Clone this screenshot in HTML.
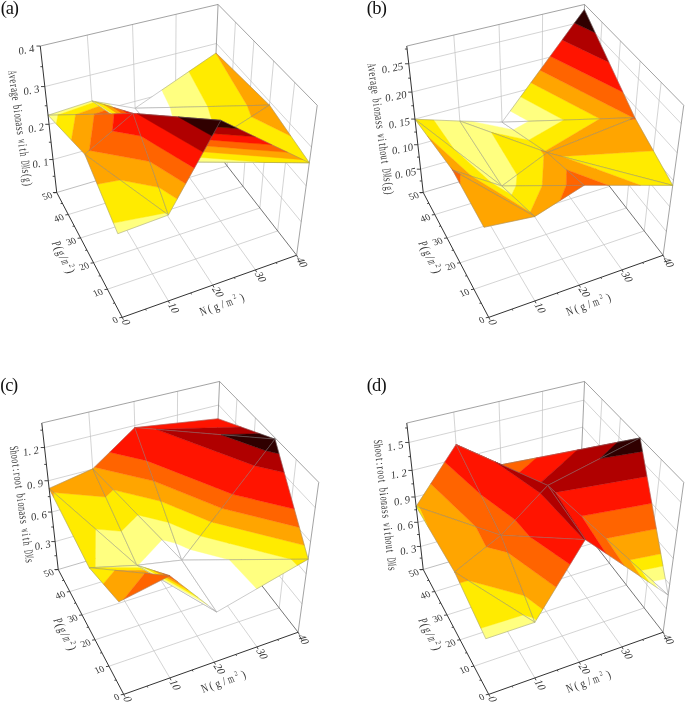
<!DOCTYPE html><html><head><meta charset="utf-8"><style>html,body{margin:0;padding:0;background:#fff}svg{display:block;will-change:transform}</style></head><body>
<svg width="685" height="704" viewBox="0 0 685 704">
<rect width="685" height="704" fill="#fff"/>
<line x1="168.37" y1="300.95" x2="97.52" y2="180.45" stroke="#c2c2c2" stroke-width="0.7"/>
<line x1="97.52" y1="180.45" x2="87.28" y2="35.05" stroke="#c2c2c2" stroke-width="0.7"/>
<line x1="212.74" y1="285.13" x2="136.96" y2="168.79" stroke="#c2c2c2" stroke-width="0.7"/>
<line x1="136.96" y1="168.79" x2="132.52" y2="24.47" stroke="#c2c2c2" stroke-width="0.7"/>
<line x1="255.46" y1="269.91" x2="175.14" y2="157.51" stroke="#c2c2c2" stroke-width="0.7"/>
<line x1="175.14" y1="157.51" x2="176.08" y2="14.27" stroke="#c2c2c2" stroke-width="0.7"/>
<line x1="107.45" y1="289.22" x2="277.69" y2="230.93" stroke="#c2c2c2" stroke-width="0.7"/>
<line x1="277.69" y1="230.93" x2="294.68" y2="82.37" stroke="#c2c2c2" stroke-width="0.7"/>
<line x1="93.59" y1="262.79" x2="259.87" y2="208.01" stroke="#c2c2c2" stroke-width="0.7"/>
<line x1="259.87" y1="208.01" x2="273.62" y2="60.95" stroke="#c2c2c2" stroke-width="0.7"/>
<line x1="80.56" y1="237.95" x2="243.05" y2="186.39" stroke="#c2c2c2" stroke-width="0.7"/>
<line x1="243.05" y1="186.39" x2="253.91" y2="40.90" stroke="#c2c2c2" stroke-width="0.7"/>
<line x1="68.29" y1="214.57" x2="227.15" y2="165.94" stroke="#c2c2c2" stroke-width="0.7"/>
<line x1="227.15" y1="165.94" x2="235.43" y2="22.11" stroke="#c2c2c2" stroke-width="0.7"/>
<line x1="53.02" y1="159.54" x2="213.45" y2="114.35" stroke="#c2c2c2" stroke-width="0.7"/>
<line x1="213.45" y1="114.35" x2="301.21" y2="221.80" stroke="#c2c2c2" stroke-width="0.7"/>
<line x1="49.07" y1="124.31" x2="214.89" y2="80.06" stroke="#c2c2c2" stroke-width="0.7"/>
<line x1="214.89" y1="80.06" x2="306.15" y2="185.86" stroke="#c2c2c2" stroke-width="0.7"/>
<line x1="44.83" y1="86.57" x2="216.43" y2="43.50" stroke="#c2c2c2" stroke-width="0.7"/>
<line x1="216.43" y1="43.50" x2="311.48" y2="147.14" stroke="#c2c2c2" stroke-width="0.7"/>
<line x1="56.72" y1="192.51" x2="212.09" y2="146.58" stroke="#a8a8a8" stroke-width="0.75"/>
<line x1="296.60" y1="255.24" x2="212.09" y2="146.58" stroke="#5c5c5c" stroke-width="0.85"/>
<line x1="212.09" y1="146.58" x2="218.07" y2="4.45" stroke="#8c8c8c" stroke-width="0.8"/>
<line x1="296.60" y1="255.24" x2="317.24" y2="105.31" stroke="#8c8c8c" stroke-width="0.8"/>
<line x1="40.28" y1="46.05" x2="218.07" y2="4.45" stroke="#8c8c8c" stroke-width="0.8"/>
<line x1="218.07" y1="4.45" x2="317.24" y2="105.31" stroke="#8c8c8c" stroke-width="0.8"/>
<polygon points="161.77,90.03 135.10,108.22 170.17,107.42" fill="#ffffff" stroke="#ffffff" stroke-width="0.4"/>
<polygon points="188.81,71.59 161.77,90.03 170.17,107.42 207.67,106.56" fill="#ffff80" stroke="#ffff80" stroke-width="0.4"/>
<polygon points="215.77,53.19 188.81,71.59 207.67,106.56 247.23,105.66" fill="#ffeb00" stroke="#ffeb00" stroke-width="0.4"/>
<polygon points="269.49,105.15 216.03,53.02 215.77,53.19 247.23,105.66" fill="#ffa500" stroke="#ffa500" stroke-width="0.4"/>
<polygon points="269.49,105.15 216.03,53.02 135.10,108.22" fill="none" stroke="#858585" stroke-width="0.5" stroke-opacity="0.85" stroke-linejoin="round"/>
<polygon points="180.58,161.89 135.10,108.22 109.38,103.91 170.22,154.77" fill="#ffffff" stroke="#ffffff" stroke-width="0.4"/>
<polygon points="109.38,103.91 91.92,100.98 170.22,154.77" fill="#ffff80" stroke="#ffff80" stroke-width="0.4"/>
<polygon points="180.58,161.89 135.10,108.22 91.92,100.98" fill="none" stroke="#858585" stroke-width="0.5" stroke-opacity="0.85" stroke-linejoin="round"/>
<polygon points="180.58,161.89 183.31,160.14 170.17,107.42 135.10,108.22" fill="#ffffff" stroke="#ffffff" stroke-width="0.4"/>
<polygon points="183.31,160.14 217.41,138.38 207.67,106.56 170.17,107.42" fill="#ffff80" stroke="#ffff80" stroke-width="0.4"/>
<polygon points="217.41,138.38 251.29,116.76 247.23,105.66 207.67,106.56" fill="#ffeb00" stroke="#ffeb00" stroke-width="0.4"/>
<polygon points="251.29,116.76 269.49,105.15 247.23,105.66" fill="#ffa500" stroke="#ffa500" stroke-width="0.4"/>
<polygon points="180.58,161.89 269.49,105.15 135.10,108.22" fill="none" stroke="#858585" stroke-width="0.5" stroke-opacity="0.85" stroke-linejoin="round"/>
<polygon points="94.92,101.89 91.92,100.98 48.05,115.23 57.94,115.02" fill="#ffff80" stroke="#ffff80" stroke-width="0.4"/>
<polygon points="103.75,104.57 94.92,101.89 57.94,115.02 75.63,114.64" fill="#ffeb00" stroke="#ffeb00" stroke-width="0.4"/>
<polygon points="113.19,107.43 103.75,104.57 75.63,114.64 94.35,114.25" fill="#ffa500" stroke="#ffa500" stroke-width="0.4"/>
<polygon points="123.31,110.50 113.19,107.43 94.35,114.25 114.19,113.83" fill="#ff6400" stroke="#ff6400" stroke-width="0.4"/>
<polygon points="132.99,113.43 123.31,110.50 114.19,113.83" fill="#ff1400" stroke="#ff1400" stroke-width="0.4"/>
<polygon points="132.99,113.43 91.92,100.98 48.05,115.23" fill="none" stroke="#858585" stroke-width="0.5" stroke-opacity="0.85" stroke-linejoin="round"/>
<polygon points="179.87,161.17 180.58,161.89 170.22,154.77" fill="#ffffff" stroke="#ffffff" stroke-width="0.4"/>
<polygon points="170.87,152.00 179.87,161.17 170.22,154.77 91.92,100.98 94.92,101.89" fill="#ffff80" stroke="#ffff80" stroke-width="0.4"/>
<polygon points="161.59,142.55 170.87,152.00 94.92,101.89 103.75,104.57" fill="#ffeb00" stroke="#ffeb00" stroke-width="0.4"/>
<polygon points="152.01,132.80 161.59,142.55 103.75,104.57 113.19,107.43" fill="#ffa500" stroke="#ffa500" stroke-width="0.4"/>
<polygon points="142.12,122.72 152.01,132.80 113.19,107.43 123.31,110.50" fill="#ff6400" stroke="#ff6400" stroke-width="0.4"/>
<polygon points="132.99,113.43 142.12,122.72 123.31,110.50" fill="#ff1400" stroke="#ff1400" stroke-width="0.4"/>
<polygon points="132.99,113.43 180.58,161.89 91.92,100.98" fill="none" stroke="#858585" stroke-width="0.5" stroke-opacity="0.85" stroke-linejoin="round"/>
<polygon points="183.31,160.14 180.58,161.89 186.57,161.93" fill="#ffffff" stroke="#ffffff" stroke-width="0.4"/>
<polygon points="217.41,138.38 183.31,160.14 186.57,161.93 263.92,162.45" fill="#ffff80" stroke="#ffff80" stroke-width="0.4"/>
<polygon points="309.34,162.75 290.96,136.19 251.29,116.76 217.41,138.38 263.92,162.45" fill="#ffeb00" stroke="#ffeb00" stroke-width="0.4"/>
<polygon points="290.96,136.19 269.49,105.15 251.29,116.76" fill="#ffa500" stroke="#ffa500" stroke-width="0.4"/>
<polygon points="309.34,162.75 269.49,105.15 180.58,161.89" fill="none" stroke="#858585" stroke-width="0.5" stroke-opacity="0.85" stroke-linejoin="round"/>
<polygon points="57.94,115.02 48.05,115.23 56.23,123.93" fill="#ffff80" stroke="#ffff80" stroke-width="0.4"/>
<polygon points="75.63,114.64 57.94,115.02 56.23,123.93 71.42,140.08" fill="#ffeb00" stroke="#ffeb00" stroke-width="0.4"/>
<polygon points="84.82,154.33 89.36,150.48 94.35,114.25 75.63,114.64 71.42,140.08" fill="#ffa500" stroke="#ffa500" stroke-width="0.4"/>
<polygon points="89.36,150.48 112.34,130.96 114.19,113.83 94.35,114.25" fill="#ff6400" stroke="#ff6400" stroke-width="0.4"/>
<polygon points="112.34,130.96 132.99,113.43 114.19,113.83" fill="#ff1400" stroke="#ff1400" stroke-width="0.4"/>
<polygon points="84.82,154.33 132.99,113.43 48.05,115.23" fill="none" stroke="#858585" stroke-width="0.5" stroke-opacity="0.85" stroke-linejoin="round"/>
<polygon points="186.57,161.93 180.58,161.89 180.97,161.48" fill="#ffffff" stroke="#ffffff" stroke-width="0.4"/>
<polygon points="263.92,162.45 186.57,161.93 180.97,161.48 185.98,156.31" fill="#ffff80" stroke="#ffff80" stroke-width="0.4"/>
<polygon points="302.86,159.64 309.34,162.75 263.92,162.45 185.98,156.31 191.21,150.91" fill="#ffeb00" stroke="#ffeb00" stroke-width="0.4"/>
<polygon points="287.63,152.34 302.86,159.64 191.21,150.91 196.67,145.28" fill="#ffa500" stroke="#ffa500" stroke-width="0.4"/>
<polygon points="271.78,144.74 287.63,152.34 196.67,145.28 202.38,139.39" fill="#ff6400" stroke="#ff6400" stroke-width="0.4"/>
<polygon points="255.27,136.82 271.78,144.74 202.38,139.39 208.34,133.23" fill="#ff1400" stroke="#ff1400" stroke-width="0.4"/>
<polygon points="238.06,128.57 255.27,136.82 208.34,133.23 214.59,126.79" fill="#b00000" stroke="#b00000" stroke-width="0.4"/>
<polygon points="220.86,120.32 238.06,128.57 214.59,126.79" fill="#300000" stroke="#300000" stroke-width="0.4"/>
<polygon points="220.86,120.32 309.34,162.75 180.58,161.89" fill="none" stroke="#858585" stroke-width="0.5" stroke-opacity="0.85" stroke-linejoin="round"/>
<polygon points="180.97,161.48 180.58,161.89 179.87,161.17" fill="#ffffff" stroke="#ffffff" stroke-width="0.4"/>
<polygon points="185.98,156.31 180.97,161.48 179.87,161.17 170.87,152.00" fill="#ffff80" stroke="#ffff80" stroke-width="0.4"/>
<polygon points="191.21,150.91 185.98,156.31 170.87,152.00 161.59,142.55" fill="#ffeb00" stroke="#ffeb00" stroke-width="0.4"/>
<polygon points="196.67,145.28 191.21,150.91 161.59,142.55 152.01,132.80" fill="#ffa500" stroke="#ffa500" stroke-width="0.4"/>
<polygon points="202.38,139.39 196.67,145.28 152.01,132.80 142.12,122.72" fill="#ff6400" stroke="#ff6400" stroke-width="0.4"/>
<polygon points="208.34,133.23 202.38,139.39 142.12,122.72 132.99,113.43 137.17,113.76" fill="#ff1400" stroke="#ff1400" stroke-width="0.4"/>
<polygon points="214.59,126.79 208.34,133.23 137.17,113.76 178.37,116.99" fill="#b00000" stroke="#b00000" stroke-width="0.4"/>
<polygon points="220.86,120.32 214.59,126.79 178.37,116.99" fill="#300000" stroke="#300000" stroke-width="0.4"/>
<polygon points="220.86,120.32 180.58,161.89 132.99,113.43" fill="none" stroke="#858585" stroke-width="0.5" stroke-opacity="0.85" stroke-linejoin="round"/>
<polygon points="168.37,215.00 167.82,213.41 165.58,212.98" fill="#ffff80" stroke="#ffff80" stroke-width="0.4"/>
<polygon points="167.82,213.41 158.74,187.34 120.26,180.07 165.58,212.98" fill="#ffeb00" stroke="#ffeb00" stroke-width="0.4"/>
<polygon points="158.74,187.34 149.75,161.55 89.36,150.48 84.82,154.33 120.26,180.07" fill="#ffa500" stroke="#ffa500" stroke-width="0.4"/>
<polygon points="149.75,161.55 140.87,136.03 112.34,130.96 89.36,150.48" fill="#ff6400" stroke="#ff6400" stroke-width="0.4"/>
<polygon points="140.87,136.03 132.99,113.43 112.34,130.96" fill="#ff1400" stroke="#ff1400" stroke-width="0.4"/>
<polygon points="168.37,215.00 132.99,113.43 84.82,154.33" fill="none" stroke="#858585" stroke-width="0.5" stroke-opacity="0.85" stroke-linejoin="round"/>
<polygon points="117.80,233.71 168.37,215.00 165.58,212.98 113.40,223.12" fill="#ffff80" stroke="#ffff80" stroke-width="0.4"/>
<polygon points="165.58,212.98 120.26,180.07 97.26,184.28 113.40,223.12" fill="#ffeb00" stroke="#ffeb00" stroke-width="0.4"/>
<polygon points="120.26,180.07 84.82,154.33 97.26,184.28" fill="#ffa500" stroke="#ffa500" stroke-width="0.4"/>
<polygon points="117.80,233.71 168.37,215.00 84.82,154.33" fill="none" stroke="#858585" stroke-width="0.5" stroke-opacity="0.85" stroke-linejoin="round"/>
<polygon points="168.37,215.00 168.87,214.10 167.82,213.41" fill="#ffff80" stroke="#ffff80" stroke-width="0.4"/>
<polygon points="168.87,214.10 177.20,199.08 158.74,187.34 167.82,213.41" fill="#ffeb00" stroke="#ffeb00" stroke-width="0.4"/>
<polygon points="177.20,199.08 185.68,183.77 149.75,161.55 158.74,187.34" fill="#ffa500" stroke="#ffa500" stroke-width="0.4"/>
<polygon points="185.68,183.77 194.33,168.18 140.87,136.03 149.75,161.55" fill="#ff6400" stroke="#ff6400" stroke-width="0.4"/>
<polygon points="194.33,168.18 203.13,152.30 137.17,113.76 132.99,113.43 140.87,136.03" fill="#ff1400" stroke="#ff1400" stroke-width="0.4"/>
<polygon points="203.13,152.30 212.10,136.12 178.37,116.99 137.17,113.76" fill="#b00000" stroke="#b00000" stroke-width="0.4"/>
<polygon points="212.10,136.12 220.86,120.32 178.37,116.99" fill="#300000" stroke="#300000" stroke-width="0.4"/>
<polygon points="168.37,215.00 220.86,120.32 132.99,113.43" fill="none" stroke="#858585" stroke-width="0.5" stroke-opacity="0.85" stroke-linejoin="round"/>
<line x1="122.23" y1="317.39" x2="296.60" y2="255.24" stroke="#333333" stroke-width="1"/>
<line x1="122.23" y1="317.39" x2="56.72" y2="192.51" stroke="#333333" stroke-width="1"/>
<line x1="56.72" y1="192.51" x2="40.28" y2="46.05" stroke="#333333" stroke-width="1"/>
<line x1="122.23" y1="317.39" x2="123.43" y2="319.70" stroke="#333" stroke-width="0.9"/>
<line x1="145.53" y1="309.09" x2="146.26" y2="310.51" stroke="#333" stroke-width="0.9"/>
<line x1="168.37" y1="300.95" x2="169.56" y2="303.26" stroke="#333" stroke-width="0.9"/>
<line x1="190.77" y1="292.96" x2="191.51" y2="294.39" stroke="#333" stroke-width="0.9"/>
<line x1="212.74" y1="285.13" x2="213.94" y2="287.44" stroke="#333" stroke-width="0.9"/>
<line x1="234.30" y1="277.45" x2="235.04" y2="278.87" stroke="#333" stroke-width="0.9"/>
<line x1="255.46" y1="269.91" x2="256.65" y2="272.22" stroke="#333" stroke-width="0.9"/>
<line x1="276.22" y1="262.51" x2="276.96" y2="263.93" stroke="#333" stroke-width="0.9"/>
<line x1="296.60" y1="255.24" x2="297.80" y2="257.56" stroke="#333" stroke-width="0.9"/>
<line x1="122.23" y1="317.39" x2="119.26" y2="317.75" stroke="#333" stroke-width="0.9"/>
<line x1="114.72" y1="303.07" x2="112.94" y2="303.29" stroke="#333" stroke-width="0.9"/>
<line x1="107.45" y1="289.22" x2="104.48" y2="289.58" stroke="#333" stroke-width="0.9"/>
<line x1="100.41" y1="275.79" x2="98.63" y2="276.01" stroke="#333" stroke-width="0.9"/>
<line x1="93.59" y1="262.79" x2="90.62" y2="263.15" stroke="#333" stroke-width="0.9"/>
<line x1="86.98" y1="250.18" x2="85.19" y2="250.40" stroke="#333" stroke-width="0.9"/>
<line x1="80.56" y1="237.95" x2="77.59" y2="238.31" stroke="#333" stroke-width="0.9"/>
<line x1="74.34" y1="226.09" x2="72.56" y2="226.30" stroke="#333" stroke-width="0.9"/>
<line x1="68.29" y1="214.57" x2="65.32" y2="214.93" stroke="#333" stroke-width="0.9"/>
<line x1="62.43" y1="203.38" x2="60.64" y2="203.60" stroke="#333" stroke-width="0.9"/>
<line x1="56.72" y1="192.51" x2="53.75" y2="192.87" stroke="#333" stroke-width="0.9"/>
<line x1="56.72" y1="192.51" x2="52.92" y2="192.51" stroke="#333" stroke-width="0.9"/>
<line x1="54.90" y1="176.30" x2="52.70" y2="176.30" stroke="#333" stroke-width="0.9"/>
<line x1="53.02" y1="159.54" x2="49.22" y2="159.54" stroke="#333" stroke-width="0.9"/>
<line x1="51.08" y1="142.22" x2="48.88" y2="142.22" stroke="#333" stroke-width="0.9"/>
<line x1="49.07" y1="124.31" x2="45.27" y2="124.31" stroke="#333" stroke-width="0.9"/>
<line x1="46.99" y1="105.77" x2="44.79" y2="105.77" stroke="#333" stroke-width="0.9"/>
<line x1="44.83" y1="86.57" x2="41.03" y2="86.57" stroke="#333" stroke-width="0.9"/>
<line x1="42.60" y1="66.68" x2="40.40" y2="66.68" stroke="#333" stroke-width="0.9"/>
<line x1="40.28" y1="46.05" x2="36.48" y2="46.05" stroke="#333" stroke-width="0.9"/>
<text transform="matrix(0.9816,-0.1908,0.0523,0.9986,48.67,165.14)" font-family="Liberation Serif" font-size="10.8" text-anchor="end" fill="#383838">0. 1</text>
<text transform="matrix(0.9816,-0.1908,0.0523,0.9986,44.27,129.91)" font-family="Liberation Serif" font-size="10.8" text-anchor="end" fill="#383838">0. 2</text>
<text transform="matrix(0.9816,-0.1908,0.0523,0.9986,39.58,92.17)" font-family="Liberation Serif" font-size="10.8" text-anchor="end" fill="#383838">0. 3</text>
<text transform="matrix(0.9816,-0.1908,0.0523,0.9986,34.58,51.65)" font-family="Liberation Serif" font-size="10.8" text-anchor="end" fill="#383838">0. 4</text>
<text transform="matrix(0.9563,-0.2924,0.4540,0.8910,118.73,322.19)" font-family="Liberation Serif" font-size="9.6" text-anchor="end" fill="#383838">0</text>
<text transform="matrix(0.9563,-0.2924,0.4540,0.8910,103.95,294.02)" font-family="Liberation Serif" font-size="9.6" text-anchor="end" fill="#383838">10</text>
<text transform="matrix(0.9563,-0.2924,0.4540,0.8910,90.09,267.59)" font-family="Liberation Serif" font-size="9.6" text-anchor="end" fill="#383838">20</text>
<text transform="matrix(0.9563,-0.2924,0.4540,0.8910,77.06,242.75)" font-family="Liberation Serif" font-size="9.6" text-anchor="end" fill="#383838">30</text>
<text transform="matrix(0.9563,-0.2924,0.4540,0.8910,64.79,219.37)" font-family="Liberation Serif" font-size="9.6" text-anchor="end" fill="#383838">40</text>
<text transform="matrix(0.9563,-0.2924,0.4540,0.8910,53.22,197.31)" font-family="Liberation Serif" font-size="9.6" text-anchor="end" fill="#383838">50</text>
<text transform="matrix(0.5299,0.8480,-0.9659,0.2588,121.03,320.79)" font-family="Liberation Serif" font-size="11.5" text-anchor="start" fill="#383838">0</text>
<text transform="matrix(0.5299,0.8480,-0.9659,0.2588,167.17,304.35)" font-family="Liberation Serif" font-size="11.5" text-anchor="start" fill="#383838" textLength="10.8" lengthAdjust="spacingAndGlyphs">10</text>
<text transform="matrix(0.5299,0.8480,-0.9659,0.2588,211.54,288.53)" font-family="Liberation Serif" font-size="11.5" text-anchor="start" fill="#383838" textLength="10.8" lengthAdjust="spacingAndGlyphs">20</text>
<text transform="matrix(0.5299,0.8480,-0.9659,0.2588,254.26,273.31)" font-family="Liberation Serif" font-size="11.5" text-anchor="start" fill="#383838" textLength="10.8" lengthAdjust="spacingAndGlyphs">30</text>
<text transform="matrix(0.5299,0.8480,-0.9659,0.2588,295.40,258.64)" font-family="Liberation Serif" font-size="11.5" text-anchor="start" fill="#383838" textLength="10.8" lengthAdjust="spacingAndGlyphs">40</text>
<text transform="matrix(0.0601,0.4278,-0.9903,0.1392,8.50,73.15)" font-family="Liberation Serif" font-size="12.50" text-anchor="middle" fill="#383838">A</text>
<text transform="matrix(0.0868,0.6179,-0.9903,0.1392,9.10,77.44)" font-family="Liberation Serif" font-size="12.50" text-anchor="middle" fill="#383838">v</text>
<text transform="matrix(0.0978,0.6961,-0.9903,0.1392,9.71,81.73)" font-family="Liberation Serif" font-size="12.50" text-anchor="middle" fill="#383838">e</text>
<text transform="matrix(0.1044,0.7427,-0.9903,0.1392,10.31,86.02)" font-family="Liberation Serif" font-size="12.50" text-anchor="middle" fill="#383838">r</text>
<text transform="matrix(0.0978,0.6961,-0.9903,0.1392,10.91,90.31)" font-family="Liberation Serif" font-size="12.50" text-anchor="middle" fill="#383838">a</text>
<text transform="matrix(0.0868,0.6179,-0.9903,0.1392,11.52,94.60)" font-family="Liberation Serif" font-size="12.50" text-anchor="middle" fill="#383838">g</text>
<text transform="matrix(0.0978,0.6961,-0.9903,0.1392,12.12,98.89)" font-family="Liberation Serif" font-size="12.50" text-anchor="middle" fill="#383838">e</text>
<text transform="matrix(0.0868,0.6179,-0.9903,0.1392,13.33,107.47)" font-family="Liberation Serif" font-size="12.50" text-anchor="middle" fill="#383838">b</text>
<text transform="matrix(0.1044,0.7427,-0.9903,0.1392,13.93,111.77)" font-family="Liberation Serif" font-size="12.50" text-anchor="middle" fill="#383838">i</text>
<text transform="matrix(0.0868,0.6179,-0.9903,0.1392,14.53,116.06)" font-family="Liberation Serif" font-size="12.50" text-anchor="middle" fill="#383838">o</text>
<text transform="matrix(0.0558,0.3972,-0.9903,0.1392,15.14,120.35)" font-family="Liberation Serif" font-size="12.50" text-anchor="middle" fill="#383838">m</text>
<text transform="matrix(0.0978,0.6961,-0.9903,0.1392,15.74,124.64)" font-family="Liberation Serif" font-size="12.50" text-anchor="middle" fill="#383838">a</text>
<text transform="matrix(0.1044,0.7427,-0.9903,0.1392,16.34,128.93)" font-family="Liberation Serif" font-size="12.50" text-anchor="middle" fill="#383838">s</text>
<text transform="matrix(0.1044,0.7427,-0.9903,0.1392,16.94,133.22)" font-family="Liberation Serif" font-size="12.50" text-anchor="middle" fill="#383838">s</text>
<text transform="matrix(0.0601,0.4278,-0.9903,0.1392,18.15,141.80)" font-family="Liberation Serif" font-size="12.50" text-anchor="middle" fill="#383838">w</text>
<text transform="matrix(0.1044,0.7427,-0.9903,0.1392,18.75,146.10)" font-family="Liberation Serif" font-size="12.50" text-anchor="middle" fill="#383838">i</text>
<text transform="matrix(0.1044,0.7427,-0.9903,0.1392,19.36,150.39)" font-family="Liberation Serif" font-size="12.50" text-anchor="middle" fill="#383838">t</text>
<text transform="matrix(0.0868,0.6179,-0.9903,0.1392,19.96,154.68)" font-family="Liberation Serif" font-size="12.50" text-anchor="middle" fill="#383838">h</text>
<text transform="matrix(0.0601,0.4278,-0.9903,0.1392,21.17,163.26)" font-family="Liberation Serif" font-size="12.50" text-anchor="middle" fill="#383838">D</text>
<text transform="matrix(0.0488,0.3475,-0.9903,0.1392,21.77,167.55)" font-family="Liberation Serif" font-size="12.50" text-anchor="middle" fill="#383838">M</text>
<text transform="matrix(0.1044,0.7427,-0.9903,0.1392,22.37,171.84)" font-family="Liberation Serif" font-size="12.50" text-anchor="middle" fill="#383838">s</text>
<text transform="matrix(0.1044,0.7427,-0.9903,0.1392,22.98,176.13)" font-family="Liberation Serif" font-size="12.50" text-anchor="middle" fill="#383838">(</text>
<text transform="matrix(0.0868,0.6179,-0.9903,0.1392,23.58,180.42)" font-family="Liberation Serif" font-size="12.50" text-anchor="middle" fill="#383838">g</text>
<text transform="matrix(0.1044,0.7427,-0.9903,0.1392,24.18,184.72)" font-family="Liberation Serif" font-size="12.50" text-anchor="middle" fill="#383838">)</text>
<text transform="matrix(0.2906,0.5704,-0.9659,0.2588,52.57,244.79)" font-family="Liberation Serif" font-size="13.00" text-anchor="middle" fill="#383838">P</text>
<text transform="matrix(0.3859,0.7574,-0.9659,0.2588,54.90,249.37)" font-family="Liberation Serif" font-size="13.00" text-anchor="middle" fill="#383838">(</text>
<text transform="matrix(0.3233,0.6345,-0.9659,0.2588,57.24,253.96)" font-family="Liberation Serif" font-size="13.00" text-anchor="middle" fill="#383838">g</text>
<text transform="matrix(0.3859,0.7574,-0.9659,0.2588,59.57,258.54)" font-family="Liberation Serif" font-size="13.00" text-anchor="middle" fill="#383838">/</text>
<text transform="matrix(0.2078,0.4079,-0.9659,0.2588,61.91,263.12)" font-family="Liberation Serif" font-size="13.00" text-anchor="middle" fill="#383838">m</text>
<text transform="matrix(0.3859,0.7574,-0.9659,0.2588,69.52,266.29)" font-family="Liberation Serif" font-size="7.80" text-anchor="middle" fill="#383838">2</text>
<text transform="matrix(0.3859,0.7574,-0.9659,0.2588,66.58,272.29)" font-family="Liberation Serif" font-size="13.00" text-anchor="middle" fill="#383838">)</text>
<text transform="matrix(0.6713,-0.2377,0.3907,0.9205,204.73,314.66)" font-family="Liberation Serif" font-size="12.00" text-anchor="middle" fill="#383838">N</text>
<text transform="matrix(0.8012,-0.2837,0.3907,0.9205,211.20,312.37)" font-family="Liberation Serif" font-size="12.00" text-anchor="middle" fill="#383838">(</text>
<text transform="matrix(0.8012,-0.2837,0.3907,0.9205,217.66,310.08)" font-family="Liberation Serif" font-size="12.00" text-anchor="middle" fill="#383838">g</text>
<text transform="matrix(0.8012,-0.2837,0.3907,0.9205,224.12,307.79)" font-family="Liberation Serif" font-size="12.00" text-anchor="middle" fill="#383838">/</text>
<text transform="matrix(0.6233,-0.2207,0.3907,0.9205,230.59,305.50)" font-family="Liberation Serif" font-size="12.00" text-anchor="middle" fill="#383838">m</text>
<text transform="matrix(0.8012,-0.2837,0.3907,0.9205,235.08,298.57)" font-family="Liberation Serif" font-size="7.20" text-anchor="middle" fill="#383838">2</text>
<text transform="matrix(0.8012,-0.2837,0.3907,0.9205,243.51,300.92)" font-family="Liberation Serif" font-size="12.00" text-anchor="middle" fill="#383838">)</text>
<text transform="matrix(1.0000,0.0000,-0.0000,1.0000,0.80,14.00)" font-family="Liberation Serif" font-size="18.5" text-anchor="start" fill="#111" textLength="18.0" lengthAdjust="spacing">(a)</text>
<line x1="534.87" y1="300.95" x2="464.02" y2="180.45" stroke="#c2c2c2" stroke-width="0.7"/>
<line x1="464.02" y1="180.45" x2="453.78" y2="35.05" stroke="#c2c2c2" stroke-width="0.7"/>
<line x1="579.24" y1="285.13" x2="503.46" y2="168.79" stroke="#c2c2c2" stroke-width="0.7"/>
<line x1="503.46" y1="168.79" x2="499.02" y2="24.47" stroke="#c2c2c2" stroke-width="0.7"/>
<line x1="621.96" y1="269.91" x2="541.64" y2="157.51" stroke="#c2c2c2" stroke-width="0.7"/>
<line x1="541.64" y1="157.51" x2="542.58" y2="14.27" stroke="#c2c2c2" stroke-width="0.7"/>
<line x1="473.95" y1="289.22" x2="644.19" y2="230.93" stroke="#c2c2c2" stroke-width="0.7"/>
<line x1="644.19" y1="230.93" x2="661.18" y2="82.37" stroke="#c2c2c2" stroke-width="0.7"/>
<line x1="460.09" y1="262.79" x2="626.37" y2="208.01" stroke="#c2c2c2" stroke-width="0.7"/>
<line x1="626.37" y1="208.01" x2="640.12" y2="60.95" stroke="#c2c2c2" stroke-width="0.7"/>
<line x1="447.06" y1="237.95" x2="609.55" y2="186.39" stroke="#c2c2c2" stroke-width="0.7"/>
<line x1="609.55" y1="186.39" x2="620.41" y2="40.90" stroke="#c2c2c2" stroke-width="0.7"/>
<line x1="434.79" y1="214.57" x2="593.65" y2="165.94" stroke="#c2c2c2" stroke-width="0.7"/>
<line x1="593.65" y1="165.94" x2="601.93" y2="22.11" stroke="#c2c2c2" stroke-width="0.7"/>
<line x1="420.60" y1="169.18" x2="579.55" y2="123.76" stroke="#c2c2c2" stroke-width="0.7"/>
<line x1="579.55" y1="123.76" x2="666.36" y2="231.60" stroke="#c2c2c2" stroke-width="0.7"/>
<line x1="417.86" y1="144.73" x2="580.56" y2="99.92" stroke="#c2c2c2" stroke-width="0.7"/>
<line x1="580.56" y1="99.92" x2="669.78" y2="206.72" stroke="#c2c2c2" stroke-width="0.7"/>
<line x1="414.98" y1="119.07" x2="581.60" y2="74.98" stroke="#c2c2c2" stroke-width="0.7"/>
<line x1="581.60" y1="74.98" x2="673.39" y2="180.51" stroke="#c2c2c2" stroke-width="0.7"/>
<line x1="411.95" y1="92.12" x2="582.70" y2="48.87" stroke="#c2c2c2" stroke-width="0.7"/>
<line x1="582.70" y1="48.87" x2="677.20" y2="152.86" stroke="#c2c2c2" stroke-width="0.7"/>
<line x1="408.77" y1="63.77" x2="583.85" y2="21.51" stroke="#c2c2c2" stroke-width="0.7"/>
<line x1="583.85" y1="21.51" x2="681.22" y2="123.64" stroke="#c2c2c2" stroke-width="0.7"/>
<line x1="423.22" y1="192.51" x2="578.59" y2="146.58" stroke="#a8a8a8" stroke-width="0.75"/>
<line x1="663.10" y1="255.24" x2="578.59" y2="146.58" stroke="#5c5c5c" stroke-width="0.85"/>
<line x1="578.59" y1="146.58" x2="584.57" y2="4.45" stroke="#8c8c8c" stroke-width="0.8"/>
<line x1="663.10" y1="255.24" x2="683.74" y2="105.31" stroke="#8c8c8c" stroke-width="0.8"/>
<line x1="406.78" y1="46.05" x2="584.57" y2="4.45" stroke="#8c8c8c" stroke-width="0.8"/>
<line x1="584.57" y1="4.45" x2="683.74" y2="105.31" stroke="#8c8c8c" stroke-width="0.8"/>
<polygon points="510.22,110.98 502.03,122.20 528.77,121.28" fill="#ffffff" stroke="#ffffff" stroke-width="0.4"/>
<polygon points="520.58,96.80 510.22,110.98 528.77,121.28 563.77,120.07" fill="#ffff80" stroke="#ffff80" stroke-width="0.4"/>
<polygon points="530.88,82.70 520.58,96.80 563.77,120.07 599.94,118.83" fill="#ffeb00" stroke="#ffeb00" stroke-width="0.4"/>
<polygon points="539.97,70.26 530.88,82.70 599.94,118.83 633.05,117.69" fill="#ffa500" stroke="#ffa500" stroke-width="0.4"/>
<polygon points="634.82,117.63 622.96,92.21 550.21,56.24 539.97,70.26 633.05,117.69" fill="#ff6400" stroke="#ff6400" stroke-width="0.4"/>
<polygon points="622.96,92.21 609.04,62.40 562.08,39.99 550.21,56.24" fill="#ff1400" stroke="#ff1400" stroke-width="0.4"/>
<polygon points="609.04,62.40 595.16,32.66 574.41,23.12 562.08,39.99" fill="#b00000" stroke="#b00000" stroke-width="0.4"/>
<polygon points="595.16,32.66 584.36,9.51 574.41,23.12" fill="#300000" stroke="#300000" stroke-width="0.4"/>
<polygon points="634.82,117.63 584.36,9.51 502.03,122.20" fill="none" stroke="#858585" stroke-width="0.5" stroke-opacity="0.85" stroke-linejoin="round"/>
<polygon points="513.38,129.84 502.03,122.20 471.95,121.39" fill="#ffffff" stroke="#ffffff" stroke-width="0.4"/>
<polygon points="528.69,140.15 513.38,129.84 471.95,121.39 459.84,121.06 491.45,132.48" fill="#ffff80" stroke="#ffff80" stroke-width="0.4"/>
<polygon points="545.08,151.18 528.69,140.15 491.45,132.48 540.77,150.29" fill="#ffeb00" stroke="#ffeb00" stroke-width="0.4"/>
<polygon points="547.19,152.60 545.08,151.18 540.77,150.29" fill="#ffa500" stroke="#ffa500" stroke-width="0.4"/>
<polygon points="547.19,152.60 502.03,122.20 459.84,121.06" fill="none" stroke="#858585" stroke-width="0.5" stroke-opacity="0.85" stroke-linejoin="round"/>
<polygon points="501.88,186.00 459.84,121.06 433.71,120.00 453.87,149.10" fill="#ffff80" stroke="#ffff80" stroke-width="0.4"/>
<polygon points="433.71,120.00 415.00,119.23 453.87,149.10" fill="#ffeb00" stroke="#ffeb00" stroke-width="0.4"/>
<polygon points="501.88,186.00 459.84,121.06 415.00,119.23" fill="none" stroke="#858585" stroke-width="0.5" stroke-opacity="0.85" stroke-linejoin="round"/>
<polygon points="528.77,121.28 502.03,122.20 513.38,129.84" fill="#ffffff" stroke="#ffffff" stroke-width="0.4"/>
<polygon points="563.77,120.07 528.77,121.28 513.38,129.84 528.69,140.15" fill="#ffff80" stroke="#ffff80" stroke-width="0.4"/>
<polygon points="599.94,118.83 563.77,120.07 528.69,140.15 545.08,151.18" fill="#ffeb00" stroke="#ffeb00" stroke-width="0.4"/>
<polygon points="547.19,152.60 629.95,119.57 633.05,117.69 599.94,118.83 545.08,151.18" fill="#ffa500" stroke="#ffa500" stroke-width="0.4"/>
<polygon points="629.95,119.57 634.82,117.63 633.05,117.69" fill="#ff6400" stroke="#ff6400" stroke-width="0.4"/>
<polygon points="547.19,152.60 634.82,117.63 502.03,122.20" fill="none" stroke="#858585" stroke-width="0.5" stroke-opacity="0.85" stroke-linejoin="round"/>
<polygon points="501.88,186.00 517.03,174.84 491.45,132.48 459.84,121.06" fill="#ffff80" stroke="#ffff80" stroke-width="0.4"/>
<polygon points="517.03,174.84 543.89,155.03 540.77,150.29 491.45,132.48" fill="#ffeb00" stroke="#ffeb00" stroke-width="0.4"/>
<polygon points="543.89,155.03 547.19,152.60 540.77,150.29" fill="#ffa500" stroke="#ffa500" stroke-width="0.4"/>
<polygon points="501.88,186.00 547.19,152.60 459.84,121.06" fill="none" stroke="#858585" stroke-width="0.5" stroke-opacity="0.85" stroke-linejoin="round"/>
<polygon points="491.21,182.58 501.88,186.00 453.87,149.10" fill="#ffff80" stroke="#ffff80" stroke-width="0.4"/>
<polygon points="471.69,176.32 491.21,182.58 453.87,149.10 415.00,119.23 427.32,135.93" fill="#ffeb00" stroke="#ffeb00" stroke-width="0.4"/>
<polygon points="454.01,170.66 471.69,176.32 427.32,135.93 450.64,167.54" fill="#ffa500" stroke="#ffa500" stroke-width="0.4"/>
<polygon points="452.60,170.20 454.01,170.66 450.64,167.54" fill="#ff6400" stroke="#ff6400" stroke-width="0.4"/>
<polygon points="452.60,170.20 501.88,186.00 415.00,119.23" fill="none" stroke="#858585" stroke-width="0.5" stroke-opacity="0.85" stroke-linejoin="round"/>
<polygon points="672.72,185.38 653.41,150.85 561.87,156.44" fill="#ffeb00" stroke="#ffeb00" stroke-width="0.4"/>
<polygon points="653.41,150.85 635.72,119.24 629.95,119.57 547.19,152.60 561.87,156.44" fill="#ffa500" stroke="#ffa500" stroke-width="0.4"/>
<polygon points="635.72,119.24 634.82,117.63 629.95,119.57" fill="#ff6400" stroke="#ff6400" stroke-width="0.4"/>
<polygon points="672.72,185.38 634.82,117.63 547.19,152.60" fill="none" stroke="#858585" stroke-width="0.5" stroke-opacity="0.85" stroke-linejoin="round"/>
<polygon points="517.03,174.84 501.88,186.00 516.03,185.88" fill="#ffff80" stroke="#ffff80" stroke-width="0.4"/>
<polygon points="543.89,155.03 517.03,174.84 516.03,185.88 542.20,185.66" fill="#ffeb00" stroke="#ffeb00" stroke-width="0.4"/>
<polygon points="566.61,169.79 547.19,152.60 543.89,155.03 542.20,185.66 566.26,185.46" fill="#ffa500" stroke="#ffa500" stroke-width="0.4"/>
<polygon points="584.16,185.32 566.61,169.79 566.26,185.46" fill="#ff6400" stroke="#ff6400" stroke-width="0.4"/>
<polygon points="584.16,185.32 547.19,152.60 501.88,186.00" fill="none" stroke="#858585" stroke-width="0.5" stroke-opacity="0.85" stroke-linejoin="round"/>
<polygon points="640.58,185.36 672.72,185.38 561.87,156.44" fill="#ffeb00" stroke="#ffeb00" stroke-width="0.4"/>
<polygon points="608.26,185.33 640.58,185.36 561.87,156.44 547.19,152.60 566.61,169.79" fill="#ffa500" stroke="#ffa500" stroke-width="0.4"/>
<polygon points="584.16,185.32 608.26,185.33 566.61,169.79" fill="#ff6400" stroke="#ff6400" stroke-width="0.4"/>
<polygon points="584.16,185.32 672.72,185.38 547.19,152.60" fill="none" stroke="#858585" stroke-width="0.5" stroke-opacity="0.85" stroke-linejoin="round"/>
<polygon points="511.61,194.99 501.88,186.00 491.21,182.58" fill="#ffff80" stroke="#ffff80" stroke-width="0.4"/>
<polygon points="530.27,212.24 511.61,194.99 491.21,182.58 471.69,176.32" fill="#ffeb00" stroke="#ffeb00" stroke-width="0.4"/>
<polygon points="534.87,216.49 530.27,212.24 471.69,176.32 454.01,170.66 460.23,174.50" fill="#ffa500" stroke="#ffa500" stroke-width="0.4"/>
<polygon points="454.01,170.66 452.60,170.20 460.23,174.50" fill="#ff6400" stroke="#ff6400" stroke-width="0.4"/>
<polygon points="534.87,216.49 501.88,186.00 452.60,170.20" fill="none" stroke="#858585" stroke-width="0.5" stroke-opacity="0.85" stroke-linejoin="round"/>
<polygon points="516.03,185.88 501.88,186.00 511.61,194.99" fill="#ffff80" stroke="#ffff80" stroke-width="0.4"/>
<polygon points="542.20,185.66 516.03,185.88 511.61,194.99 530.27,212.24" fill="#ffeb00" stroke="#ffeb00" stroke-width="0.4"/>
<polygon points="534.87,216.49 559.93,200.64 566.26,185.46 542.20,185.66 530.27,212.24" fill="#ffa500" stroke="#ffa500" stroke-width="0.4"/>
<polygon points="559.93,200.64 584.16,185.32 566.26,185.46" fill="#ff6400" stroke="#ff6400" stroke-width="0.4"/>
<polygon points="534.87,216.49 584.16,185.32 501.88,186.00" fill="none" stroke="#858585" stroke-width="0.5" stroke-opacity="0.85" stroke-linejoin="round"/>
<polygon points="483.96,227.30 534.87,216.49 460.23,174.50 460.05,183.77" fill="#ffa500" stroke="#ffa500" stroke-width="0.4"/>
<polygon points="460.23,174.50 452.60,170.20 460.05,183.77" fill="#ff6400" stroke="#ff6400" stroke-width="0.4"/>
<polygon points="483.96,227.30 534.87,216.49 452.60,170.20" fill="none" stroke="#858585" stroke-width="0.5" stroke-opacity="0.85" stroke-linejoin="round"/>
<line x1="488.73" y1="317.39" x2="663.10" y2="255.24" stroke="#333333" stroke-width="1"/>
<line x1="488.73" y1="317.39" x2="423.22" y2="192.51" stroke="#333333" stroke-width="1"/>
<line x1="423.22" y1="192.51" x2="406.78" y2="46.05" stroke="#333333" stroke-width="1"/>
<line x1="488.73" y1="317.39" x2="489.93" y2="319.70" stroke="#333" stroke-width="0.9"/>
<line x1="512.03" y1="309.09" x2="512.76" y2="310.51" stroke="#333" stroke-width="0.9"/>
<line x1="534.87" y1="300.95" x2="536.06" y2="303.26" stroke="#333" stroke-width="0.9"/>
<line x1="557.27" y1="292.96" x2="558.01" y2="294.39" stroke="#333" stroke-width="0.9"/>
<line x1="579.24" y1="285.13" x2="580.44" y2="287.44" stroke="#333" stroke-width="0.9"/>
<line x1="600.80" y1="277.45" x2="601.54" y2="278.87" stroke="#333" stroke-width="0.9"/>
<line x1="621.96" y1="269.91" x2="623.15" y2="272.22" stroke="#333" stroke-width="0.9"/>
<line x1="642.72" y1="262.51" x2="643.46" y2="263.93" stroke="#333" stroke-width="0.9"/>
<line x1="663.10" y1="255.24" x2="664.30" y2="257.56" stroke="#333" stroke-width="0.9"/>
<line x1="488.73" y1="317.39" x2="485.76" y2="317.75" stroke="#333" stroke-width="0.9"/>
<line x1="481.22" y1="303.07" x2="479.44" y2="303.29" stroke="#333" stroke-width="0.9"/>
<line x1="473.95" y1="289.22" x2="470.98" y2="289.58" stroke="#333" stroke-width="0.9"/>
<line x1="466.91" y1="275.79" x2="465.13" y2="276.01" stroke="#333" stroke-width="0.9"/>
<line x1="460.09" y1="262.79" x2="457.12" y2="263.15" stroke="#333" stroke-width="0.9"/>
<line x1="453.48" y1="250.18" x2="451.69" y2="250.40" stroke="#333" stroke-width="0.9"/>
<line x1="447.06" y1="237.95" x2="444.09" y2="238.31" stroke="#333" stroke-width="0.9"/>
<line x1="440.84" y1="226.09" x2="439.06" y2="226.30" stroke="#333" stroke-width="0.9"/>
<line x1="434.79" y1="214.57" x2="431.82" y2="214.93" stroke="#333" stroke-width="0.9"/>
<line x1="428.93" y1="203.38" x2="427.14" y2="203.60" stroke="#333" stroke-width="0.9"/>
<line x1="423.22" y1="192.51" x2="420.25" y2="192.87" stroke="#333" stroke-width="0.9"/>
<line x1="423.22" y1="192.51" x2="419.42" y2="192.51" stroke="#333" stroke-width="0.9"/>
<line x1="421.93" y1="180.98" x2="419.73" y2="180.98" stroke="#333" stroke-width="0.9"/>
<line x1="420.60" y1="169.18" x2="416.80" y2="169.18" stroke="#333" stroke-width="0.9"/>
<line x1="419.25" y1="157.10" x2="417.05" y2="157.10" stroke="#333" stroke-width="0.9"/>
<line x1="417.86" y1="144.73" x2="414.06" y2="144.73" stroke="#333" stroke-width="0.9"/>
<line x1="416.44" y1="132.06" x2="414.24" y2="132.06" stroke="#333" stroke-width="0.9"/>
<line x1="414.98" y1="119.07" x2="411.18" y2="119.07" stroke="#333" stroke-width="0.9"/>
<line x1="413.49" y1="105.77" x2="411.29" y2="105.77" stroke="#333" stroke-width="0.9"/>
<line x1="411.95" y1="92.12" x2="408.15" y2="92.12" stroke="#333" stroke-width="0.9"/>
<line x1="410.38" y1="78.13" x2="408.18" y2="78.13" stroke="#333" stroke-width="0.9"/>
<line x1="408.77" y1="63.77" x2="404.97" y2="63.77" stroke="#333" stroke-width="0.9"/>
<line x1="407.12" y1="49.04" x2="404.92" y2="49.04" stroke="#333" stroke-width="0.9"/>
<text transform="matrix(0.9816,-0.1908,0.0523,0.9986,416.38,174.78)" font-family="Liberation Serif" font-size="10.8" text-anchor="end" fill="#383838">0. 05</text>
<text transform="matrix(0.9816,-0.1908,0.0523,0.9986,413.32,150.33)" font-family="Liberation Serif" font-size="10.8" text-anchor="end" fill="#383838">0. 10</text>
<text transform="matrix(0.9816,-0.1908,0.0523,0.9986,410.12,124.67)" font-family="Liberation Serif" font-size="10.8" text-anchor="end" fill="#383838">0. 15</text>
<text transform="matrix(0.9816,-0.1908,0.0523,0.9986,406.77,97.72)" font-family="Liberation Serif" font-size="10.8" text-anchor="end" fill="#383838">0. 20</text>
<text transform="matrix(0.9816,-0.1908,0.0523,0.9986,403.27,69.37)" font-family="Liberation Serif" font-size="10.8" text-anchor="end" fill="#383838">0. 25</text>
<text transform="matrix(0.9563,-0.2924,0.4540,0.8910,485.23,322.19)" font-family="Liberation Serif" font-size="9.6" text-anchor="end" fill="#383838">0</text>
<text transform="matrix(0.9563,-0.2924,0.4540,0.8910,470.45,294.02)" font-family="Liberation Serif" font-size="9.6" text-anchor="end" fill="#383838">10</text>
<text transform="matrix(0.9563,-0.2924,0.4540,0.8910,456.59,267.59)" font-family="Liberation Serif" font-size="9.6" text-anchor="end" fill="#383838">20</text>
<text transform="matrix(0.9563,-0.2924,0.4540,0.8910,443.56,242.75)" font-family="Liberation Serif" font-size="9.6" text-anchor="end" fill="#383838">30</text>
<text transform="matrix(0.9563,-0.2924,0.4540,0.8910,431.29,219.37)" font-family="Liberation Serif" font-size="9.6" text-anchor="end" fill="#383838">40</text>
<text transform="matrix(0.9563,-0.2924,0.4540,0.8910,419.72,197.31)" font-family="Liberation Serif" font-size="9.6" text-anchor="end" fill="#383838">50</text>
<text transform="matrix(0.5299,0.8480,-0.9659,0.2588,487.53,320.79)" font-family="Liberation Serif" font-size="11.5" text-anchor="start" fill="#383838">0</text>
<text transform="matrix(0.5299,0.8480,-0.9659,0.2588,533.67,304.35)" font-family="Liberation Serif" font-size="11.5" text-anchor="start" fill="#383838" textLength="10.8" lengthAdjust="spacingAndGlyphs">10</text>
<text transform="matrix(0.5299,0.8480,-0.9659,0.2588,578.04,288.53)" font-family="Liberation Serif" font-size="11.5" text-anchor="start" fill="#383838" textLength="10.8" lengthAdjust="spacingAndGlyphs">20</text>
<text transform="matrix(0.5299,0.8480,-0.9659,0.2588,620.76,273.31)" font-family="Liberation Serif" font-size="11.5" text-anchor="start" fill="#383838" textLength="10.8" lengthAdjust="spacingAndGlyphs">30</text>
<text transform="matrix(0.5299,0.8480,-0.9659,0.2588,661.90,258.64)" font-family="Liberation Serif" font-size="11.5" text-anchor="start" fill="#383838" textLength="10.8" lengthAdjust="spacingAndGlyphs">40</text>
<text transform="matrix(0.0615,0.4377,-0.9903,0.1392,367.81,65.90)" font-family="Liberation Serif" font-size="12.50" text-anchor="middle" fill="#383838">A</text>
<text transform="matrix(0.0888,0.6322,-0.9903,0.1392,368.43,70.29)" font-family="Liberation Serif" font-size="12.50" text-anchor="middle" fill="#383838">v</text>
<text transform="matrix(0.1001,0.7122,-0.9903,0.1392,369.04,74.68)" font-family="Liberation Serif" font-size="12.50" text-anchor="middle" fill="#383838">e</text>
<text transform="matrix(0.1044,0.7427,-0.9903,0.1392,369.66,79.07)" font-family="Liberation Serif" font-size="12.50" text-anchor="middle" fill="#383838">r</text>
<text transform="matrix(0.1001,0.7122,-0.9903,0.1392,370.28,83.46)" font-family="Liberation Serif" font-size="12.50" text-anchor="middle" fill="#383838">a</text>
<text transform="matrix(0.0888,0.6322,-0.9903,0.1392,370.89,87.85)" font-family="Liberation Serif" font-size="12.50" text-anchor="middle" fill="#383838">g</text>
<text transform="matrix(0.1001,0.7122,-0.9903,0.1392,371.51,92.24)" font-family="Liberation Serif" font-size="12.50" text-anchor="middle" fill="#383838">e</text>
<text transform="matrix(0.0888,0.6322,-0.9903,0.1392,372.74,101.02)" font-family="Liberation Serif" font-size="12.50" text-anchor="middle" fill="#383838">b</text>
<text transform="matrix(0.1044,0.7427,-0.9903,0.1392,373.36,105.41)" font-family="Liberation Serif" font-size="12.50" text-anchor="middle" fill="#383838">i</text>
<text transform="matrix(0.0888,0.6322,-0.9903,0.1392,373.98,109.80)" font-family="Liberation Serif" font-size="12.50" text-anchor="middle" fill="#383838">o</text>
<text transform="matrix(0.0571,0.4064,-0.9903,0.1392,374.60,114.19)" font-family="Liberation Serif" font-size="12.50" text-anchor="middle" fill="#383838">m</text>
<text transform="matrix(0.1001,0.7122,-0.9903,0.1392,375.21,118.58)" font-family="Liberation Serif" font-size="12.50" text-anchor="middle" fill="#383838">a</text>
<text transform="matrix(0.1044,0.7427,-0.9903,0.1392,375.83,122.97)" font-family="Liberation Serif" font-size="12.50" text-anchor="middle" fill="#383838">s</text>
<text transform="matrix(0.1044,0.7427,-0.9903,0.1392,376.45,127.36)" font-family="Liberation Serif" font-size="12.50" text-anchor="middle" fill="#383838">s</text>
<text transform="matrix(0.0615,0.4377,-0.9903,0.1392,377.68,136.14)" font-family="Liberation Serif" font-size="12.50" text-anchor="middle" fill="#383838">w</text>
<text transform="matrix(0.1044,0.7427,-0.9903,0.1392,378.30,140.53)" font-family="Liberation Serif" font-size="12.50" text-anchor="middle" fill="#383838">i</text>
<text transform="matrix(0.1044,0.7427,-0.9903,0.1392,378.91,144.92)" font-family="Liberation Serif" font-size="12.50" text-anchor="middle" fill="#383838">t</text>
<text transform="matrix(0.0888,0.6322,-0.9903,0.1392,379.53,149.31)" font-family="Liberation Serif" font-size="12.50" text-anchor="middle" fill="#383838">h</text>
<text transform="matrix(0.0888,0.6322,-0.9903,0.1392,380.15,153.70)" font-family="Liberation Serif" font-size="12.50" text-anchor="middle" fill="#383838">o</text>
<text transform="matrix(0.0888,0.6322,-0.9903,0.1392,380.77,158.09)" font-family="Liberation Serif" font-size="12.50" text-anchor="middle" fill="#383838">u</text>
<text transform="matrix(0.1044,0.7427,-0.9903,0.1392,381.38,162.48)" font-family="Liberation Serif" font-size="12.50" text-anchor="middle" fill="#383838">t</text>
<text transform="matrix(0.0615,0.4377,-0.9903,0.1392,382.62,171.26)" font-family="Liberation Serif" font-size="12.50" text-anchor="middle" fill="#383838">D</text>
<text transform="matrix(0.0500,0.3555,-0.9903,0.1392,383.23,175.65)" font-family="Liberation Serif" font-size="12.50" text-anchor="middle" fill="#383838">M</text>
<text transform="matrix(0.1044,0.7427,-0.9903,0.1392,383.85,180.04)" font-family="Liberation Serif" font-size="12.50" text-anchor="middle" fill="#383838">s</text>
<text transform="matrix(0.1044,0.7427,-0.9903,0.1392,384.47,184.43)" font-family="Liberation Serif" font-size="12.50" text-anchor="middle" fill="#383838">(</text>
<text transform="matrix(0.0888,0.6322,-0.9903,0.1392,385.08,188.82)" font-family="Liberation Serif" font-size="12.50" text-anchor="middle" fill="#383838">g</text>
<text transform="matrix(0.1044,0.7427,-0.9903,0.1392,385.70,193.21)" font-family="Liberation Serif" font-size="12.50" text-anchor="middle" fill="#383838">)</text>
<text transform="matrix(0.2906,0.5704,-0.9659,0.2588,419.07,244.79)" font-family="Liberation Serif" font-size="13.00" text-anchor="middle" fill="#383838">P</text>
<text transform="matrix(0.3859,0.7574,-0.9659,0.2588,421.40,249.37)" font-family="Liberation Serif" font-size="13.00" text-anchor="middle" fill="#383838">(</text>
<text transform="matrix(0.3233,0.6345,-0.9659,0.2588,423.74,253.96)" font-family="Liberation Serif" font-size="13.00" text-anchor="middle" fill="#383838">g</text>
<text transform="matrix(0.3859,0.7574,-0.9659,0.2588,426.07,258.54)" font-family="Liberation Serif" font-size="13.00" text-anchor="middle" fill="#383838">/</text>
<text transform="matrix(0.2078,0.4079,-0.9659,0.2588,428.41,263.12)" font-family="Liberation Serif" font-size="13.00" text-anchor="middle" fill="#383838">m</text>
<text transform="matrix(0.3859,0.7574,-0.9659,0.2588,436.02,266.29)" font-family="Liberation Serif" font-size="7.80" text-anchor="middle" fill="#383838">2</text>
<text transform="matrix(0.3859,0.7574,-0.9659,0.2588,433.08,272.29)" font-family="Liberation Serif" font-size="13.00" text-anchor="middle" fill="#383838">)</text>
<text transform="matrix(0.6713,-0.2377,0.3907,0.9205,571.23,314.66)" font-family="Liberation Serif" font-size="12.00" text-anchor="middle" fill="#383838">N</text>
<text transform="matrix(0.8012,-0.2837,0.3907,0.9205,577.70,312.37)" font-family="Liberation Serif" font-size="12.00" text-anchor="middle" fill="#383838">(</text>
<text transform="matrix(0.8012,-0.2837,0.3907,0.9205,584.16,310.08)" font-family="Liberation Serif" font-size="12.00" text-anchor="middle" fill="#383838">g</text>
<text transform="matrix(0.8012,-0.2837,0.3907,0.9205,590.62,307.79)" font-family="Liberation Serif" font-size="12.00" text-anchor="middle" fill="#383838">/</text>
<text transform="matrix(0.6233,-0.2207,0.3907,0.9205,597.09,305.50)" font-family="Liberation Serif" font-size="12.00" text-anchor="middle" fill="#383838">m</text>
<text transform="matrix(0.8012,-0.2837,0.3907,0.9205,601.58,298.57)" font-family="Liberation Serif" font-size="7.20" text-anchor="middle" fill="#383838">2</text>
<text transform="matrix(0.8012,-0.2837,0.3907,0.9205,610.01,300.92)" font-family="Liberation Serif" font-size="12.00" text-anchor="middle" fill="#383838">)</text>
<text transform="matrix(1.0000,0.0000,-0.0000,1.0000,366.80,14.00)" font-family="Liberation Serif" font-size="18.5" text-anchor="start" fill="#111" textLength="20.0" lengthAdjust="spacing">(b)</text>
<line x1="169.87" y1="677.95" x2="99.02" y2="557.45" stroke="#c2c2c2" stroke-width="0.7"/>
<line x1="99.02" y1="557.45" x2="88.78" y2="412.05" stroke="#c2c2c2" stroke-width="0.7"/>
<line x1="214.24" y1="662.13" x2="138.46" y2="545.79" stroke="#c2c2c2" stroke-width="0.7"/>
<line x1="138.46" y1="545.79" x2="134.02" y2="401.47" stroke="#c2c2c2" stroke-width="0.7"/>
<line x1="256.96" y1="646.91" x2="176.64" y2="534.51" stroke="#c2c2c2" stroke-width="0.7"/>
<line x1="176.64" y1="534.51" x2="177.58" y2="391.27" stroke="#c2c2c2" stroke-width="0.7"/>
<line x1="108.95" y1="666.22" x2="279.19" y2="607.93" stroke="#c2c2c2" stroke-width="0.7"/>
<line x1="279.19" y1="607.93" x2="296.18" y2="459.37" stroke="#c2c2c2" stroke-width="0.7"/>
<line x1="95.09" y1="639.79" x2="261.37" y2="585.01" stroke="#c2c2c2" stroke-width="0.7"/>
<line x1="261.37" y1="585.01" x2="275.12" y2="437.95" stroke="#c2c2c2" stroke-width="0.7"/>
<line x1="82.06" y1="614.95" x2="244.55" y2="563.39" stroke="#c2c2c2" stroke-width="0.7"/>
<line x1="244.55" y1="563.39" x2="255.41" y2="417.90" stroke="#c2c2c2" stroke-width="0.7"/>
<line x1="69.79" y1="591.57" x2="228.65" y2="542.94" stroke="#c2c2c2" stroke-width="0.7"/>
<line x1="228.65" y1="542.94" x2="236.93" y2="399.11" stroke="#c2c2c2" stroke-width="0.7"/>
<line x1="55.09" y1="541.59" x2="214.74" y2="496.28" stroke="#c2c2c2" stroke-width="0.7"/>
<line x1="214.74" y1="496.28" x2="302.00" y2="603.93" stroke="#c2c2c2" stroke-width="0.7"/>
<line x1="51.77" y1="512.05" x2="215.95" y2="467.50" stroke="#c2c2c2" stroke-width="0.7"/>
<line x1="215.95" y1="467.50" x2="306.14" y2="573.84" stroke="#c2c2c2" stroke-width="0.7"/>
<line x1="48.26" y1="480.76" x2="217.23" y2="437.13" stroke="#c2c2c2" stroke-width="0.7"/>
<line x1="217.23" y1="437.13" x2="310.55" y2="541.81" stroke="#c2c2c2" stroke-width="0.7"/>
<line x1="44.53" y1="447.54" x2="218.58" y2="405.03" stroke="#c2c2c2" stroke-width="0.7"/>
<line x1="218.58" y1="405.03" x2="315.26" y2="507.63" stroke="#c2c2c2" stroke-width="0.7"/>
<line x1="58.22" y1="569.51" x2="213.59" y2="523.58" stroke="#a8a8a8" stroke-width="0.75"/>
<line x1="298.10" y1="632.24" x2="213.59" y2="523.58" stroke="#5c5c5c" stroke-width="0.85"/>
<line x1="213.59" y1="523.58" x2="219.57" y2="381.45" stroke="#8c8c8c" stroke-width="0.8"/>
<line x1="298.10" y1="632.24" x2="318.74" y2="482.31" stroke="#8c8c8c" stroke-width="0.8"/>
<line x1="41.78" y1="423.05" x2="219.57" y2="381.45" stroke="#8c8c8c" stroke-width="0.8"/>
<line x1="219.57" y1="381.45" x2="318.74" y2="482.31" stroke="#8c8c8c" stroke-width="0.8"/>
<polygon points="181.82,560.11 175.86,543.29 162.00,539.79" fill="#ffffff" stroke="#ffffff" stroke-width="0.4"/>
<polygon points="175.86,543.29 168.49,522.51 137.76,514.94 162.00,539.79" fill="#ffff80" stroke="#ffff80" stroke-width="0.4"/>
<polygon points="168.49,522.51 160.96,501.30 113.30,489.86 137.76,514.94" fill="#ffeb00" stroke="#ffeb00" stroke-width="0.4"/>
<polygon points="160.96,501.30 153.80,481.09 94.42,467.21 92.78,468.82 113.30,489.86" fill="#ffa500" stroke="#ffa500" stroke-width="0.4"/>
<polygon points="153.80,481.09 146.55,460.65 109.66,452.26 94.42,467.21" fill="#ff6400" stroke="#ff6400" stroke-width="0.4"/>
<polygon points="146.55,460.65 134.82,427.60 109.66,452.26" fill="#ff1400" stroke="#ff1400" stroke-width="0.4"/>
<polygon points="181.82,560.11 134.82,427.60 92.78,468.82" fill="none" stroke="#858585" stroke-width="0.5" stroke-opacity="0.85" stroke-linejoin="round"/>
<polygon points="241.23,427.03 218.00,418.72 134.82,427.60 156.19,429.35" fill="#ff1400" stroke="#ff1400" stroke-width="0.4"/>
<polygon points="259.60,433.60 241.23,427.03 156.19,429.35 220.98,434.67" fill="#b00000" stroke="#b00000" stroke-width="0.4"/>
<polygon points="275.01,439.11 259.60,433.60 220.98,434.67" fill="#300000" stroke="#300000" stroke-width="0.4"/>
<polygon points="275.01,439.11 218.00,418.72 134.82,427.60" fill="none" stroke="#858585" stroke-width="0.5" stroke-opacity="0.85" stroke-linejoin="round"/>
<polygon points="136.96,565.28 121.39,531.29 95.51,529.02" fill="#ffff80" stroke="#ffff80" stroke-width="0.4"/>
<polygon points="121.39,531.29 105.67,496.96 53.87,492.58 95.51,529.02" fill="#ffeb00" stroke="#ffeb00" stroke-width="0.4"/>
<polygon points="105.67,496.96 92.78,468.82 49.12,488.42 53.87,492.58" fill="#ffa500" stroke="#ffa500" stroke-width="0.4"/>
<polygon points="136.96,565.28 92.78,468.82 49.12,488.42" fill="none" stroke="#858585" stroke-width="0.5" stroke-opacity="0.85" stroke-linejoin="round"/>
<polygon points="138.40,565.11 181.82,560.11 162.00,539.79" fill="#ffffff" stroke="#ffffff" stroke-width="0.4"/>
<polygon points="136.96,565.28 138.40,565.11 162.00,539.79 137.76,514.94 121.39,531.29" fill="#ffff80" stroke="#ffff80" stroke-width="0.4"/>
<polygon points="137.76,514.94 113.30,489.86 105.67,496.96 121.39,531.29" fill="#ffeb00" stroke="#ffeb00" stroke-width="0.4"/>
<polygon points="113.30,489.86 92.78,468.82 105.67,496.96" fill="#ffa500" stroke="#ffa500" stroke-width="0.4"/>
<polygon points="136.96,565.28 181.82,560.11 92.78,468.82" fill="none" stroke="#858585" stroke-width="0.5" stroke-opacity="0.85" stroke-linejoin="round"/>
<polygon points="181.82,560.11 190.06,549.42 175.86,543.29" fill="#ffffff" stroke="#ffffff" stroke-width="0.4"/>
<polygon points="190.06,549.42 200.42,535.97 168.49,522.51 175.86,543.29" fill="#ffff80" stroke="#ffff80" stroke-width="0.4"/>
<polygon points="200.42,535.97 211.21,521.95 160.96,501.30 168.49,522.51" fill="#ffeb00" stroke="#ffeb00" stroke-width="0.4"/>
<polygon points="211.21,521.95 221.71,508.31 153.80,481.09 160.96,501.30" fill="#ffa500" stroke="#ffa500" stroke-width="0.4"/>
<polygon points="221.71,508.31 232.55,494.24 146.55,460.65 153.80,481.09" fill="#ff6400" stroke="#ff6400" stroke-width="0.4"/>
<polygon points="232.55,494.24 254.52,465.72 156.19,429.35 134.82,427.60 146.55,460.65" fill="#ff1400" stroke="#ff1400" stroke-width="0.4"/>
<polygon points="254.52,465.72 265.98,450.84 220.98,434.67 156.19,429.35" fill="#b00000" stroke="#b00000" stroke-width="0.4"/>
<polygon points="265.98,450.84 275.01,439.11 220.98,434.67" fill="#300000" stroke="#300000" stroke-width="0.4"/>
<polygon points="181.82,560.11 275.01,439.11 134.82,427.60" fill="none" stroke="#858585" stroke-width="0.5" stroke-opacity="0.85" stroke-linejoin="round"/>
<polygon points="95.31,567.43 136.96,565.28 95.51,529.02" fill="#ffff80" stroke="#ffff80" stroke-width="0.4"/>
<polygon points="89.26,567.74 95.31,567.43 95.51,529.02 53.87,492.58 53.56,497.20" fill="#ffeb00" stroke="#ffeb00" stroke-width="0.4"/>
<polygon points="53.87,492.58 49.12,488.42 53.56,497.20" fill="#ffa500" stroke="#ffa500" stroke-width="0.4"/>
<polygon points="89.26,567.74 136.96,565.28 49.12,488.42" fill="none" stroke="#858585" stroke-width="0.5" stroke-opacity="0.85" stroke-linejoin="round"/>
<polygon points="216.71,612.01 181.82,560.11 138.40,565.11 138.97,566.46" fill="#ffffff" stroke="#ffffff" stroke-width="0.4"/>
<polygon points="138.40,565.11 136.96,565.28 138.97,566.46" fill="#ffff80" stroke="#ffff80" stroke-width="0.4"/>
<polygon points="216.71,612.01 181.82,560.11 136.96,565.28" fill="none" stroke="#858585" stroke-width="0.5" stroke-opacity="0.85" stroke-linejoin="round"/>
<polygon points="190.06,549.42 181.82,560.11 229.40,559.75" fill="#ffffff" stroke="#ffffff" stroke-width="0.4"/>
<polygon points="200.42,535.97 190.06,549.42 229.40,559.75 291.13,559.29" fill="#ffff80" stroke="#ffff80" stroke-width="0.4"/>
<polygon points="308.16,559.17 304.35,545.36 211.21,521.95 200.42,535.97 291.13,559.29" fill="#ffeb00" stroke="#ffeb00" stroke-width="0.4"/>
<polygon points="304.35,545.36 299.39,527.41 221.71,508.31 211.21,521.95" fill="#ffa500" stroke="#ffa500" stroke-width="0.4"/>
<polygon points="299.39,527.41 294.33,509.08 232.55,494.24 221.71,508.31" fill="#ff6400" stroke="#ff6400" stroke-width="0.4"/>
<polygon points="294.33,509.08 284.24,472.52 254.52,465.72 232.55,494.24" fill="#ff1400" stroke="#ff1400" stroke-width="0.4"/>
<polygon points="284.24,472.52 279.06,453.75 265.98,450.84 254.52,465.72" fill="#b00000" stroke="#b00000" stroke-width="0.4"/>
<polygon points="279.06,453.75 275.01,439.11 265.98,450.84" fill="#300000" stroke="#300000" stroke-width="0.4"/>
<polygon points="308.16,559.17 275.01,439.11 181.82,560.11" fill="none" stroke="#858585" stroke-width="0.5" stroke-opacity="0.85" stroke-linejoin="round"/>
<polygon points="216.71,612.01 256.73,588.88 229.40,559.75 181.82,560.11" fill="#ffffff" stroke="#ffffff" stroke-width="0.4"/>
<polygon points="256.73,588.88 297.37,565.40 291.13,559.29 229.40,559.75" fill="#ffff80" stroke="#ffff80" stroke-width="0.4"/>
<polygon points="297.37,565.40 308.16,559.17 291.13,559.29" fill="#ffeb00" stroke="#ffeb00" stroke-width="0.4"/>
<polygon points="216.71,612.01 308.16,559.17 181.82,560.11" fill="none" stroke="#858585" stroke-width="0.5" stroke-opacity="0.85" stroke-linejoin="round"/>
<polygon points="144.77,567.77 136.96,565.28 95.31,567.43" fill="#ffff80" stroke="#ffff80" stroke-width="0.4"/>
<polygon points="153.50,570.57 144.77,567.77 95.31,567.43 89.26,567.74 114.84,570.30" fill="#ffeb00" stroke="#ffeb00" stroke-width="0.4"/>
<polygon points="162.41,573.41 153.50,570.57 114.84,570.30 144.80,573.29" fill="#ffa500" stroke="#ffa500" stroke-width="0.4"/>
<polygon points="169.87,575.80 162.41,573.41 144.80,573.29" fill="#ff6400" stroke="#ff6400" stroke-width="0.4"/>
<polygon points="169.87,575.80 136.96,565.28 89.26,567.74" fill="none" stroke="#858585" stroke-width="0.5" stroke-opacity="0.85" stroke-linejoin="round"/>
<polygon points="207.74,605.07 216.71,612.01 138.97,566.46" fill="#ffffff" stroke="#ffffff" stroke-width="0.4"/>
<polygon points="198.22,597.72 207.74,605.07 138.97,566.46 136.96,565.28 144.77,567.77" fill="#ffff80" stroke="#ffff80" stroke-width="0.4"/>
<polygon points="188.11,589.89 198.22,597.72 144.77,567.77 153.50,570.57" fill="#ffeb00" stroke="#ffeb00" stroke-width="0.4"/>
<polygon points="178.07,582.13 188.11,589.89 153.50,570.57 162.41,573.41" fill="#ffa500" stroke="#ffa500" stroke-width="0.4"/>
<polygon points="169.87,575.80 178.07,582.13 162.41,573.41" fill="#ff6400" stroke="#ff6400" stroke-width="0.4"/>
<polygon points="169.87,575.80 216.71,612.01 136.96,565.28" fill="none" stroke="#858585" stroke-width="0.5" stroke-opacity="0.85" stroke-linejoin="round"/>
<polygon points="114.84,570.30 89.26,567.74 103.27,583.90" fill="#ffeb00" stroke="#ffeb00" stroke-width="0.4"/>
<polygon points="118.83,601.84 123.81,599.30 144.80,573.29 114.84,570.30 103.27,583.90" fill="#ffa500" stroke="#ffa500" stroke-width="0.4"/>
<polygon points="123.81,599.30 169.87,575.80 144.80,573.29" fill="#ff6400" stroke="#ff6400" stroke-width="0.4"/>
<polygon points="118.83,601.84 169.87,575.80 89.26,567.74" fill="none" stroke="#858585" stroke-width="0.5" stroke-opacity="0.85" stroke-linejoin="round"/>
<line x1="123.73" y1="694.39" x2="298.10" y2="632.24" stroke="#333333" stroke-width="1"/>
<line x1="123.73" y1="694.39" x2="58.22" y2="569.51" stroke="#333333" stroke-width="1"/>
<line x1="58.22" y1="569.51" x2="41.78" y2="423.05" stroke="#333333" stroke-width="1"/>
<line x1="123.73" y1="694.39" x2="124.93" y2="696.70" stroke="#333" stroke-width="0.9"/>
<line x1="147.03" y1="686.09" x2="147.76" y2="687.51" stroke="#333" stroke-width="0.9"/>
<line x1="169.87" y1="677.95" x2="171.06" y2="680.26" stroke="#333" stroke-width="0.9"/>
<line x1="192.27" y1="669.96" x2="193.01" y2="671.39" stroke="#333" stroke-width="0.9"/>
<line x1="214.24" y1="662.13" x2="215.44" y2="664.44" stroke="#333" stroke-width="0.9"/>
<line x1="235.80" y1="654.45" x2="236.54" y2="655.87" stroke="#333" stroke-width="0.9"/>
<line x1="256.96" y1="646.91" x2="258.15" y2="649.22" stroke="#333" stroke-width="0.9"/>
<line x1="277.72" y1="639.51" x2="278.46" y2="640.93" stroke="#333" stroke-width="0.9"/>
<line x1="298.10" y1="632.24" x2="299.30" y2="634.56" stroke="#333" stroke-width="0.9"/>
<line x1="123.73" y1="694.39" x2="120.76" y2="694.75" stroke="#333" stroke-width="0.9"/>
<line x1="116.22" y1="680.07" x2="114.44" y2="680.29" stroke="#333" stroke-width="0.9"/>
<line x1="108.95" y1="666.22" x2="105.98" y2="666.58" stroke="#333" stroke-width="0.9"/>
<line x1="101.91" y1="652.79" x2="100.13" y2="653.01" stroke="#333" stroke-width="0.9"/>
<line x1="95.09" y1="639.79" x2="92.12" y2="640.15" stroke="#333" stroke-width="0.9"/>
<line x1="88.48" y1="627.18" x2="86.69" y2="627.40" stroke="#333" stroke-width="0.9"/>
<line x1="82.06" y1="614.95" x2="79.09" y2="615.31" stroke="#333" stroke-width="0.9"/>
<line x1="75.84" y1="603.09" x2="74.06" y2="603.30" stroke="#333" stroke-width="0.9"/>
<line x1="69.79" y1="591.57" x2="66.82" y2="591.93" stroke="#333" stroke-width="0.9"/>
<line x1="63.93" y1="580.38" x2="62.14" y2="580.60" stroke="#333" stroke-width="0.9"/>
<line x1="58.22" y1="569.51" x2="55.25" y2="569.87" stroke="#333" stroke-width="0.9"/>
<line x1="58.22" y1="569.51" x2="54.42" y2="569.51" stroke="#333" stroke-width="0.9"/>
<line x1="56.68" y1="555.74" x2="54.48" y2="555.74" stroke="#333" stroke-width="0.9"/>
<line x1="55.09" y1="541.59" x2="51.29" y2="541.59" stroke="#333" stroke-width="0.9"/>
<line x1="53.45" y1="527.03" x2="51.25" y2="527.03" stroke="#333" stroke-width="0.9"/>
<line x1="51.77" y1="512.05" x2="47.97" y2="512.05" stroke="#333" stroke-width="0.9"/>
<line x1="50.04" y1="496.63" x2="47.84" y2="496.63" stroke="#333" stroke-width="0.9"/>
<line x1="48.26" y1="480.76" x2="44.46" y2="480.76" stroke="#333" stroke-width="0.9"/>
<line x1="46.42" y1="464.40" x2="44.22" y2="464.40" stroke="#333" stroke-width="0.9"/>
<line x1="44.53" y1="447.54" x2="40.73" y2="447.54" stroke="#333" stroke-width="0.9"/>
<line x1="42.58" y1="430.16" x2="40.38" y2="430.16" stroke="#333" stroke-width="0.9"/>
<text transform="matrix(0.9816,-0.1908,0.0523,0.9986,50.81,547.19)" font-family="Liberation Serif" font-size="10.8" text-anchor="end" fill="#383838">0. 3</text>
<text transform="matrix(0.9816,-0.1908,0.0523,0.9986,47.11,517.65)" font-family="Liberation Serif" font-size="10.8" text-anchor="end" fill="#383838">0. 6</text>
<text transform="matrix(0.9816,-0.1908,0.0523,0.9986,43.21,486.36)" font-family="Liberation Serif" font-size="10.8" text-anchor="end" fill="#383838">0. 9</text>
<text transform="matrix(0.9816,-0.1908,0.0523,0.9986,39.10,453.14)" font-family="Liberation Serif" font-size="10.8" text-anchor="end" fill="#383838">1. 2</text>
<text transform="matrix(0.9563,-0.2924,0.4540,0.8910,120.23,699.19)" font-family="Liberation Serif" font-size="9.6" text-anchor="end" fill="#383838">0</text>
<text transform="matrix(0.9563,-0.2924,0.4540,0.8910,105.45,671.02)" font-family="Liberation Serif" font-size="9.6" text-anchor="end" fill="#383838">10</text>
<text transform="matrix(0.9563,-0.2924,0.4540,0.8910,91.59,644.59)" font-family="Liberation Serif" font-size="9.6" text-anchor="end" fill="#383838">20</text>
<text transform="matrix(0.9563,-0.2924,0.4540,0.8910,78.56,619.75)" font-family="Liberation Serif" font-size="9.6" text-anchor="end" fill="#383838">30</text>
<text transform="matrix(0.9563,-0.2924,0.4540,0.8910,66.29,596.37)" font-family="Liberation Serif" font-size="9.6" text-anchor="end" fill="#383838">40</text>
<text transform="matrix(0.9563,-0.2924,0.4540,0.8910,54.72,574.31)" font-family="Liberation Serif" font-size="9.6" text-anchor="end" fill="#383838">50</text>
<text transform="matrix(0.5299,0.8480,-0.9659,0.2588,122.53,697.79)" font-family="Liberation Serif" font-size="11.5" text-anchor="start" fill="#383838">0</text>
<text transform="matrix(0.5299,0.8480,-0.9659,0.2588,168.67,681.35)" font-family="Liberation Serif" font-size="11.5" text-anchor="start" fill="#383838" textLength="10.8" lengthAdjust="spacingAndGlyphs">10</text>
<text transform="matrix(0.5299,0.8480,-0.9659,0.2588,213.04,665.53)" font-family="Liberation Serif" font-size="11.5" text-anchor="start" fill="#383838" textLength="10.8" lengthAdjust="spacingAndGlyphs">20</text>
<text transform="matrix(0.5299,0.8480,-0.9659,0.2588,255.76,650.31)" font-family="Liberation Serif" font-size="11.5" text-anchor="start" fill="#383838" textLength="10.8" lengthAdjust="spacingAndGlyphs">30</text>
<text transform="matrix(0.5299,0.8480,-0.9659,0.2588,296.90,635.64)" font-family="Liberation Serif" font-size="11.5" text-anchor="start" fill="#383838" textLength="10.8" lengthAdjust="spacingAndGlyphs">40</text>
<text transform="matrix(0.0787,0.5603,-0.9903,0.1392,10.00,448.66)" font-family="Liberation Serif" font-size="12.50" text-anchor="middle" fill="#383838">S</text>
<text transform="matrix(0.0876,0.6232,-0.9903,0.1392,10.61,452.99)" font-family="Liberation Serif" font-size="12.50" text-anchor="middle" fill="#383838">h</text>
<text transform="matrix(0.0876,0.6232,-0.9903,0.1392,11.22,457.32)" font-family="Liberation Serif" font-size="12.50" text-anchor="middle" fill="#383838">o</text>
<text transform="matrix(0.0876,0.6232,-0.9903,0.1392,11.83,461.65)" font-family="Liberation Serif" font-size="12.50" text-anchor="middle" fill="#383838">o</text>
<text transform="matrix(0.1044,0.7427,-0.9903,0.1392,12.44,465.98)" font-family="Liberation Serif" font-size="12.50" text-anchor="middle" fill="#383838">t</text>
<text transform="matrix(0.1044,0.7427,-0.9903,0.1392,13.05,470.30)" font-family="Liberation Serif" font-size="12.50" text-anchor="middle" fill="#383838">:</text>
<text transform="matrix(0.1044,0.7427,-0.9903,0.1392,13.65,474.63)" font-family="Liberation Serif" font-size="12.50" text-anchor="middle" fill="#383838">r</text>
<text transform="matrix(0.0876,0.6232,-0.9903,0.1392,14.26,478.96)" font-family="Liberation Serif" font-size="12.50" text-anchor="middle" fill="#383838">o</text>
<text transform="matrix(0.0876,0.6232,-0.9903,0.1392,14.87,483.29)" font-family="Liberation Serif" font-size="12.50" text-anchor="middle" fill="#383838">o</text>
<text transform="matrix(0.1044,0.7427,-0.9903,0.1392,15.48,487.61)" font-family="Liberation Serif" font-size="12.50" text-anchor="middle" fill="#383838">t</text>
<text transform="matrix(0.0876,0.6232,-0.9903,0.1392,16.69,496.27)" font-family="Liberation Serif" font-size="12.50" text-anchor="middle" fill="#383838">b</text>
<text transform="matrix(0.1044,0.7427,-0.9903,0.1392,17.30,500.60)" font-family="Liberation Serif" font-size="12.50" text-anchor="middle" fill="#383838">i</text>
<text transform="matrix(0.0876,0.6232,-0.9903,0.1392,17.91,504.93)" font-family="Liberation Serif" font-size="12.50" text-anchor="middle" fill="#383838">o</text>
<text transform="matrix(0.0563,0.4006,-0.9903,0.1392,18.52,509.25)" font-family="Liberation Serif" font-size="12.50" text-anchor="middle" fill="#383838">m</text>
<text transform="matrix(0.0987,0.7021,-0.9903,0.1392,19.13,513.58)" font-family="Liberation Serif" font-size="12.50" text-anchor="middle" fill="#383838">a</text>
<text transform="matrix(0.1044,0.7427,-0.9903,0.1392,19.74,517.91)" font-family="Liberation Serif" font-size="12.50" text-anchor="middle" fill="#383838">s</text>
<text transform="matrix(0.1044,0.7427,-0.9903,0.1392,20.34,522.24)" font-family="Liberation Serif" font-size="12.50" text-anchor="middle" fill="#383838">s</text>
<text transform="matrix(0.0606,0.4315,-0.9903,0.1392,21.56,530.89)" font-family="Liberation Serif" font-size="12.50" text-anchor="middle" fill="#383838">w</text>
<text transform="matrix(0.1044,0.7427,-0.9903,0.1392,22.17,535.22)" font-family="Liberation Serif" font-size="12.50" text-anchor="middle" fill="#383838">i</text>
<text transform="matrix(0.1044,0.7427,-0.9903,0.1392,22.78,539.55)" font-family="Liberation Serif" font-size="12.50" text-anchor="middle" fill="#383838">t</text>
<text transform="matrix(0.0876,0.6232,-0.9903,0.1392,23.39,543.88)" font-family="Liberation Serif" font-size="12.50" text-anchor="middle" fill="#383838">h</text>
<text transform="matrix(0.0606,0.4315,-0.9903,0.1392,24.60,552.53)" font-family="Liberation Serif" font-size="12.50" text-anchor="middle" fill="#383838">D</text>
<text transform="matrix(0.0493,0.3504,-0.9903,0.1392,25.21,556.86)" font-family="Liberation Serif" font-size="12.50" text-anchor="middle" fill="#383838">M</text>
<text transform="matrix(0.1044,0.7427,-0.9903,0.1392,25.82,561.19)" font-family="Liberation Serif" font-size="12.50" text-anchor="middle" fill="#383838">s</text>
<text transform="matrix(0.2906,0.5704,-0.9659,0.2588,54.07,621.79)" font-family="Liberation Serif" font-size="13.00" text-anchor="middle" fill="#383838">P</text>
<text transform="matrix(0.3859,0.7574,-0.9659,0.2588,56.40,626.37)" font-family="Liberation Serif" font-size="13.00" text-anchor="middle" fill="#383838">(</text>
<text transform="matrix(0.3233,0.6345,-0.9659,0.2588,58.74,630.96)" font-family="Liberation Serif" font-size="13.00" text-anchor="middle" fill="#383838">g</text>
<text transform="matrix(0.3859,0.7574,-0.9659,0.2588,61.07,635.54)" font-family="Liberation Serif" font-size="13.00" text-anchor="middle" fill="#383838">/</text>
<text transform="matrix(0.2078,0.4079,-0.9659,0.2588,63.41,640.12)" font-family="Liberation Serif" font-size="13.00" text-anchor="middle" fill="#383838">m</text>
<text transform="matrix(0.3859,0.7574,-0.9659,0.2588,71.02,643.29)" font-family="Liberation Serif" font-size="7.80" text-anchor="middle" fill="#383838">2</text>
<text transform="matrix(0.3859,0.7574,-0.9659,0.2588,68.08,649.29)" font-family="Liberation Serif" font-size="13.00" text-anchor="middle" fill="#383838">)</text>
<text transform="matrix(0.6713,-0.2377,0.3907,0.9205,206.23,691.66)" font-family="Liberation Serif" font-size="12.00" text-anchor="middle" fill="#383838">N</text>
<text transform="matrix(0.8012,-0.2837,0.3907,0.9205,212.70,689.37)" font-family="Liberation Serif" font-size="12.00" text-anchor="middle" fill="#383838">(</text>
<text transform="matrix(0.8012,-0.2837,0.3907,0.9205,219.16,687.08)" font-family="Liberation Serif" font-size="12.00" text-anchor="middle" fill="#383838">g</text>
<text transform="matrix(0.8012,-0.2837,0.3907,0.9205,225.62,684.79)" font-family="Liberation Serif" font-size="12.00" text-anchor="middle" fill="#383838">/</text>
<text transform="matrix(0.6233,-0.2207,0.3907,0.9205,232.09,682.50)" font-family="Liberation Serif" font-size="12.00" text-anchor="middle" fill="#383838">m</text>
<text transform="matrix(0.8012,-0.2837,0.3907,0.9205,236.58,675.57)" font-family="Liberation Serif" font-size="7.20" text-anchor="middle" fill="#383838">2</text>
<text transform="matrix(0.8012,-0.2837,0.3907,0.9205,245.01,677.92)" font-family="Liberation Serif" font-size="12.00" text-anchor="middle" fill="#383838">)</text>
<text transform="matrix(1.0000,0.0000,-0.0000,1.0000,0.30,390.90)" font-family="Liberation Serif" font-size="18.5" text-anchor="start" fill="#111" textLength="17.9" lengthAdjust="spacing">(c)</text>
<line x1="534.87" y1="677.95" x2="464.02" y2="557.45" stroke="#c2c2c2" stroke-width="0.7"/>
<line x1="464.02" y1="557.45" x2="453.78" y2="412.05" stroke="#c2c2c2" stroke-width="0.7"/>
<line x1="579.24" y1="662.13" x2="503.46" y2="545.79" stroke="#c2c2c2" stroke-width="0.7"/>
<line x1="503.46" y1="545.79" x2="499.02" y2="401.47" stroke="#c2c2c2" stroke-width="0.7"/>
<line x1="621.96" y1="646.91" x2="541.64" y2="534.51" stroke="#c2c2c2" stroke-width="0.7"/>
<line x1="541.64" y1="534.51" x2="542.58" y2="391.27" stroke="#c2c2c2" stroke-width="0.7"/>
<line x1="473.95" y1="666.22" x2="644.19" y2="607.93" stroke="#c2c2c2" stroke-width="0.7"/>
<line x1="644.19" y1="607.93" x2="661.18" y2="459.37" stroke="#c2c2c2" stroke-width="0.7"/>
<line x1="460.09" y1="639.79" x2="626.37" y2="585.01" stroke="#c2c2c2" stroke-width="0.7"/>
<line x1="626.37" y1="585.01" x2="640.12" y2="437.95" stroke="#c2c2c2" stroke-width="0.7"/>
<line x1="447.06" y1="614.95" x2="609.55" y2="563.39" stroke="#c2c2c2" stroke-width="0.7"/>
<line x1="609.55" y1="563.39" x2="620.41" y2="417.90" stroke="#c2c2c2" stroke-width="0.7"/>
<line x1="434.79" y1="591.57" x2="593.65" y2="542.94" stroke="#c2c2c2" stroke-width="0.7"/>
<line x1="593.65" y1="542.94" x2="601.93" y2="399.11" stroke="#c2c2c2" stroke-width="0.7"/>
<line x1="420.64" y1="546.46" x2="579.54" y2="501.04" stroke="#c2c2c2" stroke-width="0.7"/>
<line x1="579.54" y1="501.04" x2="666.32" y2="608.88" stroke="#c2c2c2" stroke-width="0.7"/>
<line x1="417.93" y1="522.32" x2="580.53" y2="477.49" stroke="#c2c2c2" stroke-width="0.7"/>
<line x1="580.53" y1="477.49" x2="669.70" y2="584.32" stroke="#c2c2c2" stroke-width="0.7"/>
<line x1="415.08" y1="497.00" x2="581.57" y2="452.88" stroke="#c2c2c2" stroke-width="0.7"/>
<line x1="581.57" y1="452.88" x2="673.26" y2="558.46" stroke="#c2c2c2" stroke-width="0.7"/>
<line x1="412.10" y1="470.42" x2="582.65" y2="427.13" stroke="#c2c2c2" stroke-width="0.7"/>
<line x1="582.65" y1="427.13" x2="677.01" y2="531.19" stroke="#c2c2c2" stroke-width="0.7"/>
<line x1="408.96" y1="442.48" x2="583.78" y2="400.16" stroke="#c2c2c2" stroke-width="0.7"/>
<line x1="583.78" y1="400.16" x2="680.98" y2="502.41" stroke="#c2c2c2" stroke-width="0.7"/>
<line x1="423.22" y1="569.51" x2="578.59" y2="523.58" stroke="#a8a8a8" stroke-width="0.75"/>
<line x1="663.10" y1="632.24" x2="578.59" y2="523.58" stroke="#5c5c5c" stroke-width="0.85"/>
<line x1="578.59" y1="523.58" x2="584.57" y2="381.45" stroke="#8c8c8c" stroke-width="0.8"/>
<line x1="663.10" y1="632.24" x2="683.74" y2="482.31" stroke="#8c8c8c" stroke-width="0.8"/>
<line x1="406.78" y1="423.05" x2="584.57" y2="381.45" stroke="#8c8c8c" stroke-width="0.8"/>
<line x1="584.57" y1="381.45" x2="683.74" y2="482.31" stroke="#8c8c8c" stroke-width="0.8"/>
<polygon points="581.38,461.14 581.22,461.21 580.12,461.26" fill="#ffeb00" stroke="#ffeb00" stroke-width="0.4"/>
<polygon points="592.77,456.65 581.38,461.14 580.12,461.26 504.19,464.65" fill="#ffa500" stroke="#ffa500" stroke-width="0.4"/>
<polygon points="605.09,451.79 592.77,456.65 504.19,464.65 500.97,464.80 536.54,457.94" fill="#ff6400" stroke="#ff6400" stroke-width="0.4"/>
<polygon points="618.83,446.37 605.09,451.79 536.54,457.94 577.44,450.05" fill="#ff1400" stroke="#ff1400" stroke-width="0.4"/>
<polygon points="632.42,441.00 618.83,446.37 577.44,450.05 617.54,442.32" fill="#b00000" stroke="#b00000" stroke-width="0.4"/>
<polygon points="640.12,437.97 632.42,441.00 617.54,442.32" fill="#300000" stroke="#300000" stroke-width="0.4"/>
<polygon points="640.12,437.97 581.22,461.21 500.97,464.80" fill="none" stroke="#858585" stroke-width="0.5" stroke-opacity="0.85" stroke-linejoin="round"/>
<polygon points="519.02,472.75 500.97,464.80 476.85,453.89" fill="#ff6400" stroke="#ff6400" stroke-width="0.4"/>
<polygon points="540.85,482.38 519.02,472.75 476.85,453.89 456.07,444.49 495.26,461.99" fill="#ff1400" stroke="#ff1400" stroke-width="0.4"/>
<polygon points="547.72,485.40 540.85,482.38 495.26,461.99" fill="#b00000" stroke="#b00000" stroke-width="0.4"/>
<polygon points="547.72,485.40 500.97,464.80 456.07,444.49" fill="none" stroke="#858585" stroke-width="0.5" stroke-opacity="0.85" stroke-linejoin="round"/>
<polygon points="417.03,505.05 416.14,506.43 419.58,507.59" fill="#ffeb00" stroke="#ffeb00" stroke-width="0.4"/>
<polygon points="430.69,483.86 417.03,505.05 419.58,507.59 475.86,526.69" fill="#ffa500" stroke="#ffa500" stroke-width="0.4"/>
<polygon points="500.97,535.21 480.80,494.46 444.75,462.04 430.69,483.86 475.86,526.69" fill="#ff6400" stroke="#ff6400" stroke-width="0.4"/>
<polygon points="480.80,494.46 456.07,444.49 444.75,462.04" fill="#ff1400" stroke="#ff1400" stroke-width="0.4"/>
<polygon points="500.97,535.21 456.07,444.49 416.14,506.43" fill="none" stroke="#858585" stroke-width="0.5" stroke-opacity="0.85" stroke-linejoin="round"/>
<polygon points="536.54,457.94 500.97,464.80 519.02,472.75" fill="#ff6400" stroke="#ff6400" stroke-width="0.4"/>
<polygon points="577.44,450.05 536.54,457.94 519.02,472.75 540.85,482.38" fill="#ff1400" stroke="#ff1400" stroke-width="0.4"/>
<polygon points="547.72,485.40 599.96,458.58 617.54,442.32 577.44,450.05 540.85,482.38" fill="#b00000" stroke="#b00000" stroke-width="0.4"/>
<polygon points="599.96,458.58 640.12,437.97 617.54,442.32" fill="#300000" stroke="#300000" stroke-width="0.4"/>
<polygon points="547.72,485.40 640.12,437.97 500.97,464.80" fill="none" stroke="#858585" stroke-width="0.5" stroke-opacity="0.85" stroke-linejoin="round"/>
<polygon points="419.58,507.59 416.14,506.43 428.50,527.49" fill="#ffeb00" stroke="#ffeb00" stroke-width="0.4"/>
<polygon points="454.61,572.00 486.26,546.88 475.86,526.69 419.58,507.59 428.50,527.49" fill="#ffa500" stroke="#ffa500" stroke-width="0.4"/>
<polygon points="486.26,546.88 500.97,535.21 475.86,526.69" fill="#ff6400" stroke="#ff6400" stroke-width="0.4"/>
<polygon points="454.61,572.00 500.97,535.21 416.14,506.43" fill="none" stroke="#858585" stroke-width="0.5" stroke-opacity="0.85" stroke-linejoin="round"/>
<polygon points="500.97,535.21 515.30,519.94 480.80,494.46" fill="#ff6400" stroke="#ff6400" stroke-width="0.4"/>
<polygon points="515.30,519.94 540.37,493.24 495.26,461.99 456.07,444.49 480.80,494.46" fill="#ff1400" stroke="#ff1400" stroke-width="0.4"/>
<polygon points="540.37,493.24 547.72,485.40 495.26,461.99" fill="#b00000" stroke="#b00000" stroke-width="0.4"/>
<polygon points="500.97,535.21 547.72,485.40 456.07,444.49" fill="none" stroke="#858585" stroke-width="0.5" stroke-opacity="0.85" stroke-linejoin="round"/>
<polygon points="668.21,595.12 665.30,578.86 653.09,581.35" fill="#ffffff" stroke="#ffffff" stroke-width="0.4"/>
<polygon points="665.30,578.86 663.02,566.07 641.13,570.47 653.09,581.35" fill="#ffff80" stroke="#ffff80" stroke-width="0.4"/>
<polygon points="663.02,566.07 660.83,553.83 629.62,559.98 641.13,570.47" fill="#ffeb00" stroke="#ffeb00" stroke-width="0.4"/>
<polygon points="660.83,553.83 656.37,528.85 605.93,538.41 629.62,559.98" fill="#ffa500" stroke="#ffa500" stroke-width="0.4"/>
<polygon points="656.37,528.85 651.79,503.28 581.42,516.09 605.93,538.41" fill="#ff6400" stroke="#ff6400" stroke-width="0.4"/>
<polygon points="651.79,503.28 647.00,476.44 555.40,492.40 581.42,516.09" fill="#ff1400" stroke="#ff1400" stroke-width="0.4"/>
<polygon points="647.00,476.44 642.53,451.48 599.96,458.58 547.72,485.40 555.40,492.40" fill="#b00000" stroke="#b00000" stroke-width="0.4"/>
<polygon points="642.53,451.48 640.12,437.97 599.96,458.58" fill="#300000" stroke="#300000" stroke-width="0.4"/>
<polygon points="668.21,595.12 640.12,437.97 547.72,485.40" fill="none" stroke="#858585" stroke-width="0.5" stroke-opacity="0.85" stroke-linejoin="round"/>
<polygon points="534.87,622.30 533.09,617.73 523.20,614.99" fill="#ffff80" stroke="#ffff80" stroke-width="0.4"/>
<polygon points="533.09,617.73 524.53,595.74 468.18,580.51 523.20,614.99" fill="#ffeb00" stroke="#ffeb00" stroke-width="0.4"/>
<polygon points="524.53,595.74 507.65,552.38 486.26,546.88 454.61,572.00 468.18,580.51" fill="#ffa500" stroke="#ffa500" stroke-width="0.4"/>
<polygon points="507.65,552.38 500.97,535.21 486.26,546.88" fill="#ff6400" stroke="#ff6400" stroke-width="0.4"/>
<polygon points="534.87,622.30 500.97,535.21 454.61,572.00" fill="none" stroke="#858585" stroke-width="0.5" stroke-opacity="0.85" stroke-linejoin="round"/>
<polygon points="657.80,588.15 668.21,595.12 653.09,581.35" fill="#ffffff" stroke="#ffffff" stroke-width="0.4"/>
<polygon points="649.44,582.55 657.80,588.15 653.09,581.35 641.13,570.47" fill="#ffff80" stroke="#ffff80" stroke-width="0.4"/>
<polygon points="641.27,577.08 649.44,582.55 641.13,570.47 629.62,559.98" fill="#ffeb00" stroke="#ffeb00" stroke-width="0.4"/>
<polygon points="624.11,565.58 641.27,577.08 629.62,559.98 605.93,538.41" fill="#ffa500" stroke="#ffa500" stroke-width="0.4"/>
<polygon points="605.83,553.34 624.11,565.58 605.93,538.41 581.42,516.09" fill="#ff6400" stroke="#ff6400" stroke-width="0.4"/>
<polygon points="585.82,539.93 605.83,553.34 581.42,516.09 555.40,492.40" fill="#ff1400" stroke="#ff1400" stroke-width="0.4"/>
<polygon points="585.28,539.57 585.82,539.93 555.40,492.40 547.72,485.40" fill="#b00000" stroke="#b00000" stroke-width="0.4"/>
<polygon points="585.28,539.57 668.21,595.12 547.72,485.40" fill="none" stroke="#858585" stroke-width="0.5" stroke-opacity="0.85" stroke-linejoin="round"/>
<polygon points="485.78,638.75 534.87,622.30 523.20,614.99 480.90,628.29" fill="#ffff80" stroke="#ffff80" stroke-width="0.4"/>
<polygon points="523.20,614.99 468.18,580.51 459.74,582.99 480.90,628.29" fill="#ffeb00" stroke="#ffeb00" stroke-width="0.4"/>
<polygon points="468.18,580.51 454.61,572.00 459.74,582.99" fill="#ffa500" stroke="#ffa500" stroke-width="0.4"/>
<polygon points="485.78,638.75 534.87,622.30 454.61,572.00" fill="none" stroke="#858585" stroke-width="0.5" stroke-opacity="0.85" stroke-linejoin="round"/>
<polygon points="515.30,519.94 500.97,535.21 529.85,536.70" fill="#ff6400" stroke="#ff6400" stroke-width="0.4"/>
<polygon points="540.37,493.24 515.30,519.94 529.85,536.70 583.80,539.50" fill="#ff1400" stroke="#ff1400" stroke-width="0.4"/>
<polygon points="585.28,539.57 547.72,485.40 540.37,493.24 583.80,539.50" fill="#b00000" stroke="#b00000" stroke-width="0.4"/>
<polygon points="585.28,539.57 547.72,485.40 500.97,535.21" fill="none" stroke="#858585" stroke-width="0.5" stroke-opacity="0.85" stroke-linejoin="round"/>
<polygon points="534.87,622.30 536.20,620.11 533.09,617.73" fill="#ffff80" stroke="#ffff80" stroke-width="0.4"/>
<polygon points="536.20,620.11 542.73,609.40 524.53,595.74 533.09,617.73" fill="#ffeb00" stroke="#ffeb00" stroke-width="0.4"/>
<polygon points="542.73,609.40 556.16,587.36 507.65,552.38 524.53,595.74" fill="#ffa500" stroke="#ffa500" stroke-width="0.4"/>
<polygon points="556.16,587.36 570.09,564.51 529.85,536.70 500.97,535.21 507.65,552.38" fill="#ff6400" stroke="#ff6400" stroke-width="0.4"/>
<polygon points="570.09,564.51 584.89,540.22 583.80,539.50 529.85,536.70" fill="#ff1400" stroke="#ff1400" stroke-width="0.4"/>
<polygon points="584.89,540.22 585.28,539.57 583.80,539.50" fill="#b00000" stroke="#b00000" stroke-width="0.4"/>
<polygon points="534.87,622.30 585.28,539.57 500.97,535.21" fill="none" stroke="#858585" stroke-width="0.5" stroke-opacity="0.85" stroke-linejoin="round"/>
<line x1="488.73" y1="694.39" x2="663.10" y2="632.24" stroke="#333333" stroke-width="1"/>
<line x1="488.73" y1="694.39" x2="423.22" y2="569.51" stroke="#333333" stroke-width="1"/>
<line x1="423.22" y1="569.51" x2="406.78" y2="423.05" stroke="#333333" stroke-width="1"/>
<line x1="488.73" y1="694.39" x2="489.93" y2="696.70" stroke="#333" stroke-width="0.9"/>
<line x1="512.03" y1="686.09" x2="512.76" y2="687.51" stroke="#333" stroke-width="0.9"/>
<line x1="534.87" y1="677.95" x2="536.06" y2="680.26" stroke="#333" stroke-width="0.9"/>
<line x1="557.27" y1="669.96" x2="558.01" y2="671.39" stroke="#333" stroke-width="0.9"/>
<line x1="579.24" y1="662.13" x2="580.44" y2="664.44" stroke="#333" stroke-width="0.9"/>
<line x1="600.80" y1="654.45" x2="601.54" y2="655.87" stroke="#333" stroke-width="0.9"/>
<line x1="621.96" y1="646.91" x2="623.15" y2="649.22" stroke="#333" stroke-width="0.9"/>
<line x1="642.72" y1="639.51" x2="643.46" y2="640.93" stroke="#333" stroke-width="0.9"/>
<line x1="663.10" y1="632.24" x2="664.30" y2="634.56" stroke="#333" stroke-width="0.9"/>
<line x1="488.73" y1="694.39" x2="485.76" y2="694.75" stroke="#333" stroke-width="0.9"/>
<line x1="481.22" y1="680.07" x2="479.44" y2="680.29" stroke="#333" stroke-width="0.9"/>
<line x1="473.95" y1="666.22" x2="470.98" y2="666.58" stroke="#333" stroke-width="0.9"/>
<line x1="466.91" y1="652.79" x2="465.13" y2="653.01" stroke="#333" stroke-width="0.9"/>
<line x1="460.09" y1="639.79" x2="457.12" y2="640.15" stroke="#333" stroke-width="0.9"/>
<line x1="453.48" y1="627.18" x2="451.69" y2="627.40" stroke="#333" stroke-width="0.9"/>
<line x1="447.06" y1="614.95" x2="444.09" y2="615.31" stroke="#333" stroke-width="0.9"/>
<line x1="440.84" y1="603.09" x2="439.06" y2="603.30" stroke="#333" stroke-width="0.9"/>
<line x1="434.79" y1="591.57" x2="431.82" y2="591.93" stroke="#333" stroke-width="0.9"/>
<line x1="428.93" y1="580.38" x2="427.14" y2="580.60" stroke="#333" stroke-width="0.9"/>
<line x1="423.22" y1="569.51" x2="420.25" y2="569.87" stroke="#333" stroke-width="0.9"/>
<line x1="423.22" y1="569.51" x2="419.42" y2="569.51" stroke="#333" stroke-width="0.9"/>
<line x1="421.94" y1="558.12" x2="419.74" y2="558.12" stroke="#333" stroke-width="0.9"/>
<line x1="420.64" y1="546.46" x2="416.84" y2="546.46" stroke="#333" stroke-width="0.9"/>
<line x1="419.30" y1="534.53" x2="417.10" y2="534.53" stroke="#333" stroke-width="0.9"/>
<line x1="417.93" y1="522.32" x2="414.13" y2="522.32" stroke="#333" stroke-width="0.9"/>
<line x1="416.52" y1="509.81" x2="414.32" y2="509.81" stroke="#333" stroke-width="0.9"/>
<line x1="415.08" y1="497.00" x2="411.28" y2="497.00" stroke="#333" stroke-width="0.9"/>
<line x1="413.61" y1="483.87" x2="411.41" y2="483.87" stroke="#333" stroke-width="0.9"/>
<line x1="412.10" y1="470.42" x2="408.30" y2="470.42" stroke="#333" stroke-width="0.9"/>
<line x1="410.55" y1="456.63" x2="408.35" y2="456.63" stroke="#333" stroke-width="0.9"/>
<line x1="408.96" y1="442.48" x2="405.16" y2="442.48" stroke="#333" stroke-width="0.9"/>
<line x1="407.34" y1="427.97" x2="405.14" y2="427.97" stroke="#333" stroke-width="0.9"/>
<text transform="matrix(0.9816,-0.1908,0.0523,0.9986,416.42,552.06)" font-family="Liberation Serif" font-size="10.8" text-anchor="end" fill="#383838">0. 3</text>
<text transform="matrix(0.9816,-0.1908,0.0523,0.9986,413.39,527.92)" font-family="Liberation Serif" font-size="10.8" text-anchor="end" fill="#383838">0. 6</text>
<text transform="matrix(0.9816,-0.1908,0.0523,0.9986,410.23,502.60)" font-family="Liberation Serif" font-size="10.8" text-anchor="end" fill="#383838">0. 9</text>
<text transform="matrix(0.9816,-0.1908,0.0523,0.9986,406.93,476.02)" font-family="Liberation Serif" font-size="10.8" text-anchor="end" fill="#383838">1. 2</text>
<text transform="matrix(0.9816,-0.1908,0.0523,0.9986,403.48,448.08)" font-family="Liberation Serif" font-size="10.8" text-anchor="end" fill="#383838">1. 5</text>
<text transform="matrix(0.9563,-0.2924,0.4540,0.8910,485.23,699.19)" font-family="Liberation Serif" font-size="9.6" text-anchor="end" fill="#383838">0</text>
<text transform="matrix(0.9563,-0.2924,0.4540,0.8910,470.45,671.02)" font-family="Liberation Serif" font-size="9.6" text-anchor="end" fill="#383838">10</text>
<text transform="matrix(0.9563,-0.2924,0.4540,0.8910,456.59,644.59)" font-family="Liberation Serif" font-size="9.6" text-anchor="end" fill="#383838">20</text>
<text transform="matrix(0.9563,-0.2924,0.4540,0.8910,443.56,619.75)" font-family="Liberation Serif" font-size="9.6" text-anchor="end" fill="#383838">30</text>
<text transform="matrix(0.9563,-0.2924,0.4540,0.8910,431.29,596.37)" font-family="Liberation Serif" font-size="9.6" text-anchor="end" fill="#383838">40</text>
<text transform="matrix(0.9563,-0.2924,0.4540,0.8910,419.72,574.31)" font-family="Liberation Serif" font-size="9.6" text-anchor="end" fill="#383838">50</text>
<text transform="matrix(0.5299,0.8480,-0.9659,0.2588,487.53,697.79)" font-family="Liberation Serif" font-size="11.5" text-anchor="start" fill="#383838">0</text>
<text transform="matrix(0.5299,0.8480,-0.9659,0.2588,533.67,681.35)" font-family="Liberation Serif" font-size="11.5" text-anchor="start" fill="#383838" textLength="10.8" lengthAdjust="spacingAndGlyphs">10</text>
<text transform="matrix(0.5299,0.8480,-0.9659,0.2588,578.04,665.53)" font-family="Liberation Serif" font-size="11.5" text-anchor="start" fill="#383838" textLength="10.8" lengthAdjust="spacingAndGlyphs">20</text>
<text transform="matrix(0.5299,0.8480,-0.9659,0.2588,620.76,650.31)" font-family="Liberation Serif" font-size="11.5" text-anchor="start" fill="#383838" textLength="10.8" lengthAdjust="spacingAndGlyphs">30</text>
<text transform="matrix(0.5299,0.8480,-0.9659,0.2588,661.90,635.64)" font-family="Liberation Serif" font-size="11.5" text-anchor="start" fill="#383838" textLength="10.8" lengthAdjust="spacingAndGlyphs">40</text>
<text transform="matrix(0.0645,0.5660,-0.9936,0.1132,373.95,442.19)" font-family="Liberation Serif" font-size="12.50" text-anchor="middle" fill="#383838">S</text>
<text transform="matrix(0.0717,0.6295,-0.9936,0.1132,374.45,446.56)" font-family="Liberation Serif" font-size="12.50" text-anchor="middle" fill="#383838">h</text>
<text transform="matrix(0.0717,0.6295,-0.9936,0.1132,374.95,450.93)" font-family="Liberation Serif" font-size="12.50" text-anchor="middle" fill="#383838">o</text>
<text transform="matrix(0.0717,0.6295,-0.9936,0.1132,375.44,455.30)" font-family="Liberation Serif" font-size="12.50" text-anchor="middle" fill="#383838">o</text>
<text transform="matrix(0.0849,0.7452,-0.9936,0.1132,375.94,459.67)" font-family="Liberation Serif" font-size="12.50" text-anchor="middle" fill="#383838">t</text>
<text transform="matrix(0.0849,0.7452,-0.9936,0.1132,376.44,464.04)" font-family="Liberation Serif" font-size="12.50" text-anchor="middle" fill="#383838">:</text>
<text transform="matrix(0.0849,0.7452,-0.9936,0.1132,376.94,468.42)" font-family="Liberation Serif" font-size="12.50" text-anchor="middle" fill="#383838">r</text>
<text transform="matrix(0.0717,0.6295,-0.9936,0.1132,377.44,472.79)" font-family="Liberation Serif" font-size="12.50" text-anchor="middle" fill="#383838">o</text>
<text transform="matrix(0.0717,0.6295,-0.9936,0.1132,377.93,477.16)" font-family="Liberation Serif" font-size="12.50" text-anchor="middle" fill="#383838">o</text>
<text transform="matrix(0.0849,0.7452,-0.9936,0.1132,378.43,481.53)" font-family="Liberation Serif" font-size="12.50" text-anchor="middle" fill="#383838">t</text>
<text transform="matrix(0.0717,0.6295,-0.9936,0.1132,379.43,490.27)" font-family="Liberation Serif" font-size="12.50" text-anchor="middle" fill="#383838">b</text>
<text transform="matrix(0.0849,0.7452,-0.9936,0.1132,379.93,494.65)" font-family="Liberation Serif" font-size="12.50" text-anchor="middle" fill="#383838">i</text>
<text transform="matrix(0.0717,0.6295,-0.9936,0.1132,380.42,499.02)" font-family="Liberation Serif" font-size="12.50" text-anchor="middle" fill="#383838">o</text>
<text transform="matrix(0.0461,0.4047,-0.9936,0.1132,380.92,503.39)" font-family="Liberation Serif" font-size="12.50" text-anchor="middle" fill="#383838">m</text>
<text transform="matrix(0.0808,0.7092,-0.9936,0.1132,381.42,507.76)" font-family="Liberation Serif" font-size="12.50" text-anchor="middle" fill="#383838">a</text>
<text transform="matrix(0.0849,0.7452,-0.9936,0.1132,381.92,512.13)" font-family="Liberation Serif" font-size="12.50" text-anchor="middle" fill="#383838">s</text>
<text transform="matrix(0.0849,0.7452,-0.9936,0.1132,382.42,516.51)" font-family="Liberation Serif" font-size="12.50" text-anchor="middle" fill="#383838">s</text>
<text transform="matrix(0.0497,0.4359,-0.9936,0.1132,383.41,525.25)" font-family="Liberation Serif" font-size="12.50" text-anchor="middle" fill="#383838">w</text>
<text transform="matrix(0.0849,0.7452,-0.9936,0.1132,383.91,529.62)" font-family="Liberation Serif" font-size="12.50" text-anchor="middle" fill="#383838">i</text>
<text transform="matrix(0.0849,0.7452,-0.9936,0.1132,384.41,533.99)" font-family="Liberation Serif" font-size="12.50" text-anchor="middle" fill="#383838">t</text>
<text transform="matrix(0.0717,0.6295,-0.9936,0.1132,384.91,538.36)" font-family="Liberation Serif" font-size="12.50" text-anchor="middle" fill="#383838">h</text>
<text transform="matrix(0.0717,0.6295,-0.9936,0.1132,385.41,542.74)" font-family="Liberation Serif" font-size="12.50" text-anchor="middle" fill="#383838">o</text>
<text transform="matrix(0.0717,0.6295,-0.9936,0.1132,385.90,547.11)" font-family="Liberation Serif" font-size="12.50" text-anchor="middle" fill="#383838">u</text>
<text transform="matrix(0.0849,0.7452,-0.9936,0.1132,386.40,551.48)" font-family="Liberation Serif" font-size="12.50" text-anchor="middle" fill="#383838">t</text>
<text transform="matrix(0.0497,0.4359,-0.9936,0.1132,387.40,560.22)" font-family="Liberation Serif" font-size="12.50" text-anchor="middle" fill="#383838">D</text>
<text transform="matrix(0.0403,0.3540,-0.9936,0.1132,387.90,564.59)" font-family="Liberation Serif" font-size="12.50" text-anchor="middle" fill="#383838">M</text>
<text transform="matrix(0.0849,0.7452,-0.9936,0.1132,388.39,568.97)" font-family="Liberation Serif" font-size="12.50" text-anchor="middle" fill="#383838">s</text>
<text transform="matrix(0.2906,0.5704,-0.9659,0.2588,419.07,621.79)" font-family="Liberation Serif" font-size="13.00" text-anchor="middle" fill="#383838">P</text>
<text transform="matrix(0.3859,0.7574,-0.9659,0.2588,421.40,626.37)" font-family="Liberation Serif" font-size="13.00" text-anchor="middle" fill="#383838">(</text>
<text transform="matrix(0.3233,0.6345,-0.9659,0.2588,423.74,630.96)" font-family="Liberation Serif" font-size="13.00" text-anchor="middle" fill="#383838">g</text>
<text transform="matrix(0.3859,0.7574,-0.9659,0.2588,426.07,635.54)" font-family="Liberation Serif" font-size="13.00" text-anchor="middle" fill="#383838">/</text>
<text transform="matrix(0.2078,0.4079,-0.9659,0.2588,428.41,640.12)" font-family="Liberation Serif" font-size="13.00" text-anchor="middle" fill="#383838">m</text>
<text transform="matrix(0.3859,0.7574,-0.9659,0.2588,436.02,643.29)" font-family="Liberation Serif" font-size="7.80" text-anchor="middle" fill="#383838">2</text>
<text transform="matrix(0.3859,0.7574,-0.9659,0.2588,433.08,649.29)" font-family="Liberation Serif" font-size="13.00" text-anchor="middle" fill="#383838">)</text>
<text transform="matrix(0.6713,-0.2377,0.3907,0.9205,571.23,691.66)" font-family="Liberation Serif" font-size="12.00" text-anchor="middle" fill="#383838">N</text>
<text transform="matrix(0.8012,-0.2837,0.3907,0.9205,577.70,689.37)" font-family="Liberation Serif" font-size="12.00" text-anchor="middle" fill="#383838">(</text>
<text transform="matrix(0.8012,-0.2837,0.3907,0.9205,584.16,687.08)" font-family="Liberation Serif" font-size="12.00" text-anchor="middle" fill="#383838">g</text>
<text transform="matrix(0.8012,-0.2837,0.3907,0.9205,590.62,684.79)" font-family="Liberation Serif" font-size="12.00" text-anchor="middle" fill="#383838">/</text>
<text transform="matrix(0.6233,-0.2207,0.3907,0.9205,597.09,682.50)" font-family="Liberation Serif" font-size="12.00" text-anchor="middle" fill="#383838">m</text>
<text transform="matrix(0.8012,-0.2837,0.3907,0.9205,601.58,675.57)" font-family="Liberation Serif" font-size="7.20" text-anchor="middle" fill="#383838">2</text>
<text transform="matrix(0.8012,-0.2837,0.3907,0.9205,610.01,677.92)" font-family="Liberation Serif" font-size="12.00" text-anchor="middle" fill="#383838">)</text>
<text transform="matrix(1.0000,0.0000,-0.0000,1.0000,366.80,390.90)" font-family="Liberation Serif" font-size="18.5" text-anchor="start" fill="#111" textLength="19.8" lengthAdjust="spacing">(d)</text>
</svg></body></html>
